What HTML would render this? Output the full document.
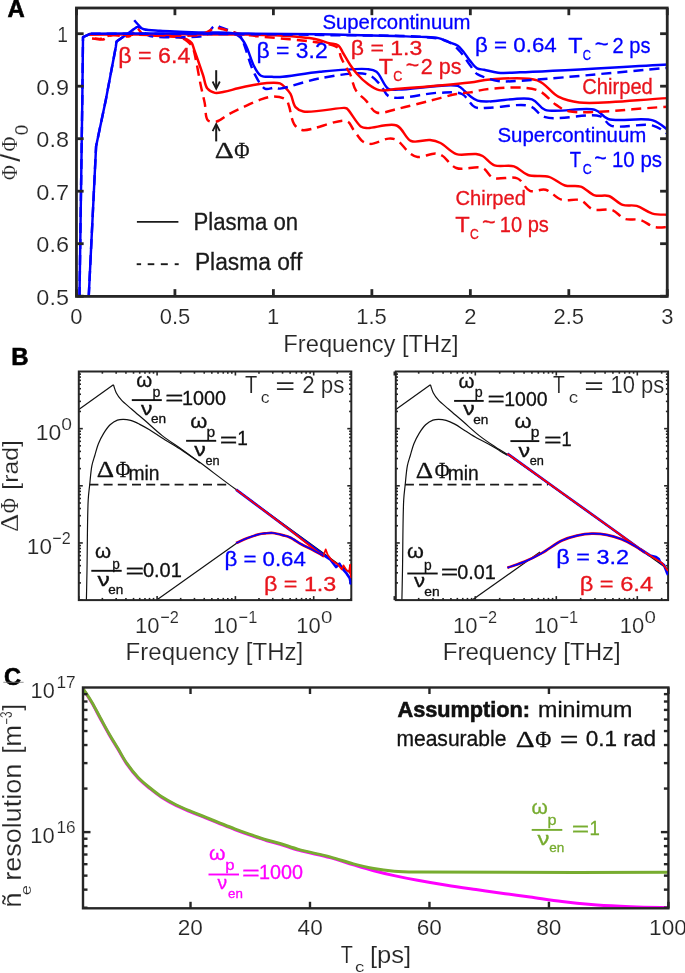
<!DOCTYPE html>
<html><head><meta charset="utf-8"><style>
html,body{margin:0;padding:0;background:#fff;width:685px;height:973px;overflow:hidden}
svg{display:block;will-change:transform}
text{white-space:pre;font-kerning:none}
text.t{stroke:#fff;stroke-width:0.15px}
</style></head><body>
<svg width="685" height="973" viewBox="0 0 685 973">
<rect width="685" height="973" fill="#fff"/>
<defs><clipPath id="clipA"><rect x="76.45" y="8.0" width="590.8499999999999" height="288.35"/></clipPath><clipPath id="clipBL"><rect x="78.8" y="371.5" width="272.5" height="228.6"/></clipPath><clipPath id="clipBR"><rect x="395.8" y="371.5" width="272.3" height="228.6"/></clipPath><clipPath id="clipC"><rect x="83" y="687.5" width="585.4" height="220.8"/></clipPath></defs>
<g clip-path="url(#clipA)">
<path d="M95.00,38.50 C97.67,38.83 100.41,39.98 103.00,39.50 C105.75,38.99 107.63,35.97 111.00,35.20 C115.87,34.08 125.54,37.92 130.00,36.00 C133.29,34.59 134.53,28.32 136.80,28.20 C138.83,28.10 139.64,32.43 142.90,33.90 C149.79,37.01 172.52,35.28 180.00,37.50 C183.51,38.54 185.19,39.64 187.30,41.30 C189.39,42.95 191.22,44.78 192.60,47.40 C194.38,50.79 194.88,55.49 196.00,60.50 C197.48,67.11 198.88,76.32 200.40,83.70 C201.79,90.47 203.42,96.81 204.70,103.10 C205.90,109.02 205.05,117.71 207.90,120.40 C209.91,122.30 213.65,122.12 216.60,121.50 C220.13,120.75 223.45,117.16 227.40,115.00 C231.97,112.50 237.27,109.95 242.50,107.50 C248.02,104.91 254.13,101.77 259.70,99.90 C264.66,98.24 269.61,96.41 274.20,96.50 C278.40,96.58 283.77,97.73 286.20,99.80 C287.99,101.33 288.03,103.34 289.00,106.00 C290.62,110.43 291.36,120.10 294.20,124.20 C296.23,127.14 298.05,129.11 302.00,130.00 C310.56,131.92 338.78,118.08 346.70,121.00 C350.53,122.41 350.92,126.36 353.30,129.40 C356.12,133.00 359.17,138.83 362.50,141.20 C364.99,142.97 367.21,143.82 370.40,143.90 C375.22,144.01 383.84,138.89 388.70,138.60 C391.85,138.41 393.87,138.50 396.60,139.90 C400.77,142.04 405.75,150.18 409.80,153.10 C412.57,155.09 414.37,156.56 417.60,157.00 C422.28,157.64 431.08,153.19 435.60,153.50 C438.41,153.69 439.82,154.37 442.30,155.80 C446.32,158.12 450.40,165.79 456.30,168.00 C463.32,170.63 476.15,165.46 482.60,168.00 C487.37,169.88 488.41,175.87 493.10,177.80 C499.23,180.32 511.22,175.75 517.60,178.50 C522.97,180.82 525.08,188.98 529.90,190.80 C534.48,192.53 540.55,188.53 545.60,189.80 C551.09,191.18 555.62,197.84 561.40,199.60 C567.30,201.40 575.25,198.38 580.70,200.30 C585.54,202.00 588.06,207.71 592.90,209.40 C598.35,211.30 606.72,208.15 612.20,210.00 C617.05,211.64 619.89,217.14 624.50,218.80 C629.20,220.49 635.24,218.55 640.20,219.90 C645.14,221.25 649.25,225.71 654.20,226.90 C659.18,228.09 664.73,226.97 670.00,227.00" fill="none" stroke="#ff0000" stroke-width="2.45" stroke-linejoin="round" stroke-dasharray="10 6"/>
<path d="M88.00,34.50 C105.33,34.43 124.39,33.75 140.00,34.30 C152.83,34.75 166.35,35.67 175.00,36.90 C180.18,37.64 184.34,38.11 187.30,39.50 C189.28,40.43 190.57,41.43 191.70,43.00 C193.01,44.80 193.20,46.94 194.30,50.00 C196.37,55.76 200.62,67.91 203.00,75.00 C204.75,80.21 204.94,85.58 207.40,88.60 C209.32,90.96 212.26,92.35 215.00,92.90 C217.81,93.46 220.76,92.42 224.10,91.80 C228.29,91.03 233.42,89.38 238.10,88.30 C242.78,87.22 247.60,86.17 252.20,85.30 C256.56,84.48 260.55,83.53 265.00,83.20 C269.79,82.84 276.32,82.07 280.00,83.40 C282.59,84.34 284.05,86.35 285.80,88.10 C287.55,89.85 289.08,91.43 290.50,93.90 C292.45,97.29 292.93,104.13 295.50,107.10 C297.56,109.48 299.57,110.68 303.40,111.50 C311.55,113.24 338.63,107.62 344.10,107.90 C345.49,107.97 345.64,107.76 346.70,108.40 C349.85,110.31 356.86,124.14 361.20,126.80 C363.51,128.22 364.75,127.94 367.70,128.10 C373.88,128.43 389.11,122.64 396.60,125.50 C403.00,127.94 405.32,138.67 411.10,141.00 C416.56,143.20 424.66,139.40 430.00,140.00 C434.05,140.46 436.79,141.23 440.50,143.00 C445.46,145.36 450.58,152.37 456.50,154.20 C462.41,156.03 471.26,153.32 476.00,154.00 C478.82,154.40 480.21,154.76 482.60,156.00 C486.14,157.84 489.71,163.51 494.50,165.30 C499.94,167.33 508.24,164.50 514.00,166.30 C519.29,167.96 522.62,173.21 528.00,175.00 C534.09,177.02 542.65,174.89 549.00,176.80 C554.90,178.57 559.51,183.90 565.00,185.50 C570.10,186.99 575.80,185.00 580.70,186.60 C585.72,188.24 589.82,193.88 594.70,195.40 C599.19,196.80 604.21,194.60 608.70,196.00 C613.58,197.52 617.83,203.19 622.70,204.80 C627.19,206.29 632.01,204.62 636.70,205.90 C641.94,207.33 646.95,212.12 652.50,213.60 C658.05,215.08 664.17,214.40 670.00,214.80" fill="none" stroke="#ff0000" stroke-width="2.45" stroke-linejoin="round"/>
<polyline points="88.7,297.0 96.1,146.2 105.8,100.0 115.8,47.0 116.5,41.5 127.0,34.2" fill="none" stroke="#0000ff" stroke-width="2.45" stroke-linejoin="round" stroke-dasharray="10 6"/>
<path d="M134.20,20.30 C135.93,22.20 137.59,23.91 139.40,26.00 C141.50,28.42 143.90,32.33 146.00,34.00 C147.38,35.10 147.83,35.48 150.00,36.00 C157.27,37.75 191.15,37.45 200.00,36.50 C203.26,36.15 204.61,36.25 206.60,35.00 C209.05,33.47 211.00,28.52 213.00,27.00 C214.22,26.07 215.26,25.49 216.50,25.50 C217.91,25.51 219.08,26.72 221.00,27.50 C224.29,28.84 231.14,30.92 234.60,32.50 C236.86,33.53 238.56,33.98 240.00,35.50 C241.64,37.25 242.12,39.48 243.50,42.80 C246.27,49.46 250.09,65.27 254.40,73.50 C257.68,79.76 261.40,87.06 265.40,88.80 C268.11,89.98 271.39,87.67 274.00,87.70 C276.18,87.72 277.14,88.75 280.00,88.60 C287.47,88.21 306.00,80.66 320.00,78.30 C335.00,75.77 356.82,71.19 367.30,74.40 C373.54,76.31 376.61,81.06 380.40,84.90 C383.98,88.53 384.43,94.43 389.60,96.70 C398.94,100.81 424.87,93.00 438.20,92.80 C447.50,92.66 455.57,91.18 461.90,94.00 C467.50,96.50 470.00,105.02 475.00,107.20 C479.49,109.16 483.82,107.74 490.00,107.70 C500.02,107.64 519.57,102.99 529.40,105.90 C536.30,107.94 537.83,114.90 545.20,117.20 C557.61,121.08 589.49,112.45 600.30,116.40 C605.76,118.39 605.70,123.66 610.90,125.60 C619.90,128.96 642.27,122.75 652.90,125.60 C660.19,127.56 664.30,132.20 670.00,135.50" fill="none" stroke="#0000ff" stroke-width="2.45" stroke-linejoin="round" stroke-dasharray="10 6"/>
<polyline points="88.7,297.0 96.1,146.2 105.8,100.0 115.8,47.0 116.5,41.5" fill="none" stroke="#0000ff" stroke-width="2.45" stroke-linejoin="round"/>
<path d="M116.50,41.50 C120.00,39.07 123.57,36.62 127.00,34.20 C130.33,31.85 134.97,28.16 136.80,27.20 C137.44,26.86 137.58,26.68 138.20,26.70 C139.45,26.75 141.38,28.56 143.80,29.20 C147.74,30.24 153.39,30.33 160.00,30.80 C170.36,31.53 187.36,32.08 200.00,32.50 C211.39,32.88 225.58,31.60 232.50,33.30 C236.01,34.16 237.86,35.18 240.00,37.00 C242.32,38.97 243.81,41.53 245.70,45.00 C248.63,50.37 251.31,61.39 254.40,66.90 C256.51,70.67 258.07,74.05 261.00,75.70 C263.94,77.36 268.62,76.59 272.00,76.80 C274.87,76.98 276.33,77.20 280.00,77.00 C288.25,76.56 306.08,73.00 320.00,71.70 C335.08,70.29 357.70,68.04 367.30,69.10 C371.61,69.58 373.59,69.62 376.50,71.70 C380.78,74.77 383.79,86.21 388.30,88.80 C391.51,90.64 393.88,89.57 398.80,89.60 C410.47,89.67 448.12,82.83 457.80,85.80 C461.47,86.93 462.41,89.24 464.50,91.00 C466.46,92.65 467.94,94.46 470.00,96.00 C472.26,97.68 474.63,99.67 477.60,100.60 C481.12,101.70 484.64,101.36 490.00,101.40 C499.86,101.47 522.32,96.19 532.00,99.30 C538.13,101.27 538.86,107.59 545.20,109.80 C556.10,113.61 584.16,106.34 595.10,109.80 C601.29,111.76 602.13,116.98 608.20,119.00 C618.34,122.38 641.85,116.94 652.90,120.40 C660.36,122.74 664.30,127.80 670.00,131.50" fill="none" stroke="#0000ff" stroke-width="2.45" stroke-linejoin="round"/>
<path d="M92.00,38.50 C94.67,38.67 97.23,39.38 100.00,39.00 C103.19,38.56 104.89,36.38 110.00,35.50 C124.90,32.93 187.03,37.70 200.00,35.00 C203.77,34.21 204.88,32.99 207.00,32.00 C208.82,31.16 210.30,30.16 212.00,29.50 C213.64,28.87 215.30,28.19 217.00,28.10 C218.73,28.01 220.33,28.54 222.30,29.00 C224.86,29.60 228.25,30.84 231.00,31.60 C233.45,32.28 235.34,32.84 238.00,33.40 C241.45,34.13 244.22,34.59 250.00,35.40 C264.87,37.48 317.08,40.87 330.00,44.50 C334.38,45.73 336.62,46.32 338.40,48.40 C340.10,50.39 339.57,53.61 340.70,56.50 C342.11,60.10 344.83,65.00 346.60,68.20 C347.87,70.50 348.92,71.50 350.10,74.00 C351.99,78.01 353.04,85.84 355.90,90.40 C358.50,94.55 362.65,97.02 366.00,100.60 C369.52,104.37 371.76,110.85 376.50,112.50 C382.16,114.47 390.75,110.23 398.80,108.50 C408.45,106.43 420.36,103.12 430.40,100.60 C439.54,98.31 449.26,95.35 456.60,94.00 C461.80,93.04 465.18,93.14 470.10,92.40 C476.10,91.50 481.91,89.41 490.00,88.80 C502.37,87.86 525.67,85.89 537.30,90.10 C545.48,93.06 549.91,100.91 555.70,104.60 C560.28,107.52 562.10,109.77 568.80,111.20 C586.41,114.97 636.27,108.13 670.00,106.60" fill="none" stroke="#ff0000" stroke-width="2.45" stroke-linejoin="round" stroke-dasharray="10 6"/>
<path d="M88.00,34.20 C142.00,34.33 217.51,34.07 250.00,34.60 C263.98,34.83 269.63,34.83 280.00,35.50 C291.23,36.23 306.02,37.25 315.00,39.00 C320.78,40.13 324.79,41.97 329.00,43.10 C332.43,44.02 336.03,43.68 338.40,45.40 C340.67,47.05 341.39,50.19 343.10,53.00 C345.21,56.47 347.67,61.08 350.10,64.70 C352.35,68.04 354.40,70.99 357.10,74.00 C360.06,77.30 363.59,80.90 367.30,83.60 C370.94,86.25 374.49,89.08 379.10,90.10 C384.68,91.34 390.20,89.46 398.80,88.80 C415.17,87.54 453.58,84.46 470.00,82.50 C478.74,81.46 481.89,80.03 490.00,79.50 C502.40,78.69 525.21,76.13 537.30,80.40 C546.36,83.60 550.92,93.00 558.30,96.70 C564.98,100.05 569.73,101.44 579.30,102.50 C598.83,104.66 639.77,99.50 670.00,98.00" fill="none" stroke="#ff0000" stroke-width="2.45" stroke-linejoin="round"/>
<polyline points="79.5,297.0 82.3,100.0 83.0,37.2 90.6,33.7" fill="none" stroke="#0000ff" stroke-width="2.45" stroke-linejoin="round" stroke-dasharray="10 6"/>
<path d="M90.60,33.70 C127.07,33.80 162.69,33.79 200.00,34.00 C239.08,34.22 279.98,34.17 320.00,35.00 C360.08,35.83 421.05,34.70 440.30,39.00 C446.72,40.44 449.05,41.89 452.60,44.30 C456.00,46.61 458.52,49.72 461.30,53.00 C464.38,56.63 467.29,61.57 470.10,65.30 C472.52,68.51 474.33,72.03 477.10,74.10 C479.63,75.99 482.62,76.51 485.80,77.60 C489.52,78.87 493.55,80.48 498.10,81.10 C503.53,81.84 507.29,81.42 516.30,81.00 C542.55,79.79 618.77,72.07 670.00,67.60" fill="none" stroke="#0000ff" stroke-width="2.45" stroke-linejoin="round" stroke-dasharray="10 6"/>
<polyline points="79.5,297.0 82.3,100.0 83.0,37.2 90.6,33.7" fill="none" stroke="#0000ff" stroke-width="2.45" stroke-linejoin="round"/>
<path d="M90.60,33.70 C127.07,33.60 162.69,33.33 200.00,33.40 C239.08,33.48 284.04,33.63 320.00,34.20 C349.36,34.66 381.93,35.67 400.00,36.20 C409.26,36.47 414.32,36.56 421.00,36.90 C427.10,37.21 433.73,37.02 438.50,38.10 C442.01,38.90 444.24,40.39 447.30,41.60 C450.64,42.92 455.05,43.85 457.80,45.70 C460.08,47.23 461.28,49.12 463.10,51.30 C465.36,54.01 467.67,57.96 470.10,60.90 C472.35,63.63 474.51,66.98 477.10,68.40 C479.26,69.58 481.37,69.15 484.10,69.70 C487.97,70.47 492.88,72.20 498.10,72.70 C504.56,73.32 509.44,72.67 520.00,72.30 C547.65,71.32 620.00,67.03 670.00,64.40" fill="none" stroke="#0000ff" stroke-width="2.45" stroke-linejoin="round"/>
</g>
<rect x="76.45" y="8.0" width="590.8" height="288.4" fill="none" stroke="#262626" stroke-width="2.8"/>
<line x1="76.45" y1="296.35" x2="76.45" y2="289.15" stroke="#262626" stroke-width="2.8"/>
<line x1="76.45" y1="8.00" x2="76.45" y2="15.20" stroke="#262626" stroke-width="2.8"/>
<line x1="174.92" y1="296.35" x2="174.92" y2="289.15" stroke="#262626" stroke-width="2.8"/>
<line x1="174.92" y1="8.00" x2="174.92" y2="15.20" stroke="#262626" stroke-width="2.8"/>
<line x1="273.40" y1="296.35" x2="273.40" y2="289.15" stroke="#262626" stroke-width="2.8"/>
<line x1="273.40" y1="8.00" x2="273.40" y2="15.20" stroke="#262626" stroke-width="2.8"/>
<line x1="371.87" y1="296.35" x2="371.87" y2="289.15" stroke="#262626" stroke-width="2.8"/>
<line x1="371.87" y1="8.00" x2="371.87" y2="15.20" stroke="#262626" stroke-width="2.8"/>
<line x1="470.35" y1="296.35" x2="470.35" y2="289.15" stroke="#262626" stroke-width="2.8"/>
<line x1="470.35" y1="8.00" x2="470.35" y2="15.20" stroke="#262626" stroke-width="2.8"/>
<line x1="568.82" y1="296.35" x2="568.82" y2="289.15" stroke="#262626" stroke-width="2.8"/>
<line x1="568.82" y1="8.00" x2="568.82" y2="15.20" stroke="#262626" stroke-width="2.8"/>
<line x1="667.30" y1="296.35" x2="667.30" y2="289.15" stroke="#262626" stroke-width="2.8"/>
<line x1="667.30" y1="8.00" x2="667.30" y2="15.20" stroke="#262626" stroke-width="2.8"/>
<line x1="76.45" y1="296.20" x2="83.65" y2="296.20" stroke="#262626" stroke-width="2.8"/>
<line x1="667.30" y1="296.20" x2="660.10" y2="296.20" stroke="#262626" stroke-width="2.8"/>
<line x1="76.45" y1="243.70" x2="83.65" y2="243.70" stroke="#262626" stroke-width="2.8"/>
<line x1="667.30" y1="243.70" x2="660.10" y2="243.70" stroke="#262626" stroke-width="2.8"/>
<line x1="76.45" y1="191.20" x2="83.65" y2="191.20" stroke="#262626" stroke-width="2.8"/>
<line x1="667.30" y1="191.20" x2="660.10" y2="191.20" stroke="#262626" stroke-width="2.8"/>
<line x1="76.45" y1="138.70" x2="83.65" y2="138.70" stroke="#262626" stroke-width="2.8"/>
<line x1="667.30" y1="138.70" x2="660.10" y2="138.70" stroke="#262626" stroke-width="2.8"/>
<line x1="76.45" y1="86.20" x2="83.65" y2="86.20" stroke="#262626" stroke-width="2.8"/>
<line x1="667.30" y1="86.20" x2="660.10" y2="86.20" stroke="#262626" stroke-width="2.8"/>
<line x1="76.45" y1="33.70" x2="83.65" y2="33.70" stroke="#262626" stroke-width="2.8"/>
<line x1="667.30" y1="33.70" x2="660.10" y2="33.70" stroke="#262626" stroke-width="2.8"/>
<text class="t" x="70.33" y="324.10" font-size="22" font-family="'Liberation Sans', sans-serif" fill="#262626" textLength="12.24" lengthAdjust="spacingAndGlyphs">0</text>
<text class="t" x="159.67" y="324.10" font-size="22" font-family="'Liberation Sans', sans-serif" fill="#262626" textLength="30.58" lengthAdjust="spacingAndGlyphs">0.5</text>
<text class="t" x="266.98" y="324.10" font-size="22" font-family="'Liberation Sans', sans-serif" fill="#262626" textLength="12.24" lengthAdjust="spacingAndGlyphs">1</text>
<text class="t" x="356.21" y="324.10" font-size="22" font-family="'Liberation Sans', sans-serif" fill="#262626" textLength="30.58" lengthAdjust="spacingAndGlyphs">1.5</text>
<text class="t" x="464.23" y="324.10" font-size="22" font-family="'Liberation Sans', sans-serif" fill="#262626" textLength="12.24" lengthAdjust="spacingAndGlyphs">2</text>
<text class="t" x="553.44" y="324.10" font-size="22" font-family="'Liberation Sans', sans-serif" fill="#262626" textLength="30.58" lengthAdjust="spacingAndGlyphs">2.5</text>
<text class="t" x="661.25" y="324.10" font-size="22" font-family="'Liberation Sans', sans-serif" fill="#262626" textLength="12.24" lengthAdjust="spacingAndGlyphs">3</text>
<text x="36.38" y="304.80" font-size="22" font-family="'Liberation Sans', sans-serif" fill="#262626" textLength="32.60" lengthAdjust="spacingAndGlyphs" class="t">0.5</text>
<text x="36.38" y="252.30" font-size="22" font-family="'Liberation Sans', sans-serif" fill="#262626" textLength="32.65" lengthAdjust="spacingAndGlyphs" class="t">0.6</text>
<text x="36.38" y="199.80" font-size="22" font-family="'Liberation Sans', sans-serif" fill="#262626" textLength="32.81" lengthAdjust="spacingAndGlyphs" class="t">0.7</text>
<text x="36.38" y="147.30" font-size="22" font-family="'Liberation Sans', sans-serif" fill="#262626" textLength="32.64" lengthAdjust="spacingAndGlyphs" class="t">0.8</text>
<text x="36.38" y="94.80" font-size="22" font-family="'Liberation Sans', sans-serif" fill="#262626" textLength="32.74" lengthAdjust="spacingAndGlyphs" class="t">0.9</text>
<text x="57.33" y="42.00" font-size="22" font-family="'Liberation Sans', sans-serif" fill="#262626" textLength="10.71" lengthAdjust="spacingAndGlyphs" class="t">1</text>
<text x="283.36" y="351.50" font-size="23.4" font-family="'Liberation Sans', sans-serif" fill="#262626" textLength="175.24" lengthAdjust="spacingAndGlyphs" class="t">Frequency [THz]</text>
<g transform="translate(16.9,179.4) rotate(-90)">
<text x="-0.61" y="0.00" font-size="24" font-family="'Liberation Serif', serif" fill="#262626" textLength="14.83" lengthAdjust="spacingAndGlyphs" class="t">Φ</text>
<text x="17.70" y="2.60" font-size="27" font-family="'Liberation Sans', sans-serif" fill="#262626" textLength="7.90" lengthAdjust="spacingAndGlyphs" class="t">/</text>
<text x="27.89" y="0.00" font-size="24" font-family="'Liberation Serif', serif" fill="#262626" textLength="14.83" lengthAdjust="spacingAndGlyphs" class="t">Φ</text>
<text x="44.26" y="10.80" font-size="18.8" font-family="'Liberation Sans', sans-serif" fill="#262626" textLength="10.47" lengthAdjust="spacingAndGlyphs" class="t">0</text>
</g>
<text x="7.51" y="16.50" font-size="24.3" font-family="'Liberation Sans', sans-serif" fill="#000" font-weight="bold" textLength="17.22" lengthAdjust="spacingAndGlyphs" style="stroke:#000;stroke-width:0.6px">A</text>
<text x="118.29" y="63.00" font-size="21.5" font-family="'Liberation Sans', sans-serif" fill="#e8141c" textLength="72.09" lengthAdjust="spacingAndGlyphs" style="stroke:#e8141c;stroke-width:0.3px">β = 6.4</text>
<text x="256.51" y="57.60" font-size="21.3" font-family="'Liberation Sans', sans-serif" fill="#0000ff" textLength="71.14" lengthAdjust="spacingAndGlyphs" style="stroke:#0000ff;stroke-width:0.3px">β = 3.2</text>
<text x="350.80" y="54.90" font-size="20.2" font-family="'Liberation Sans', sans-serif" fill="#e8141c" textLength="71.51" lengthAdjust="spacingAndGlyphs" style="stroke:#e8141c;stroke-width:0.3px">β = 1.3</text>
<text x="475.05" y="51.90" font-size="20.4" font-family="'Liberation Sans', sans-serif" fill="#0000ff" textLength="81.70" lengthAdjust="spacingAndGlyphs" style="stroke:#0000ff;stroke-width:0.3px">β = 0.64</text>
<text x="322.48" y="29.20" font-size="19.8" font-family="'Liberation Sans', sans-serif" fill="#0000ff" textLength="147.96" lengthAdjust="spacingAndGlyphs" style="stroke:#0000ff;stroke-width:0.3px">Supercontinuum</text>
<text x="497.47" y="142.30" font-size="19.8" font-family="'Liberation Sans', sans-serif" fill="#0000ff" textLength="148.88" lengthAdjust="spacingAndGlyphs" style="stroke:#0000ff;stroke-width:0.3px">Supercontinuum</text>
<text x="582.28" y="94.30" font-size="21.2" font-family="'Liberation Sans', sans-serif" fill="#e8141c" textLength="70.52" lengthAdjust="spacingAndGlyphs" style="stroke:#e8141c;stroke-width:0.3px">Chirped</text>
<text x="455.38" y="205.40" font-size="21.0" font-family="'Liberation Sans', sans-serif" fill="#e8141c" textLength="70.62" lengthAdjust="spacingAndGlyphs" style="stroke:#e8141c;stroke-width:0.3px">Chirped</text>
<text x="378.68" y="73.90" font-size="21.3" font-family="'Liberation Sans', sans-serif" fill="#e8141c" textLength="14.26" lengthAdjust="spacingAndGlyphs" style="stroke:#e8141c;stroke-width:0.3px">T</text>
<text x="393.36" y="80.80" font-size="13.8" font-family="'Liberation Sans', sans-serif" fill="#e8141c" textLength="9.12" lengthAdjust="spacingAndGlyphs" style="stroke:#e8141c;stroke-width:0.3px">C</text>
<text x="405.66" y="71.70" font-size="21.3" font-family="'Liberation Sans', sans-serif" fill="#e8141c" textLength="13.47" lengthAdjust="spacingAndGlyphs" style="stroke:#e8141c;stroke-width:0.3px">~</text>
<text x="420.82" y="73.90" font-size="21.3" font-family="'Liberation Sans', sans-serif" fill="#e8141c" textLength="40.76" lengthAdjust="spacingAndGlyphs" style="stroke:#e8141c;stroke-width:0.3px">2 ps</text>
<text x="568.38" y="53.20" font-size="21.3" font-family="'Liberation Sans', sans-serif" fill="#0000ff" textLength="14.26" lengthAdjust="spacingAndGlyphs" style="stroke:#0000ff;stroke-width:0.3px">T</text>
<text x="582.82" y="60.10" font-size="13.8" font-family="'Liberation Sans', sans-serif" fill="#0000ff" textLength="8.21" lengthAdjust="spacingAndGlyphs" style="stroke:#0000ff;stroke-width:0.3px">C</text>
<text x="594.83" y="51.00" font-size="21.3" font-family="'Liberation Sans', sans-serif" fill="#0000ff" textLength="13.95" lengthAdjust="spacingAndGlyphs" style="stroke:#0000ff;stroke-width:0.3px">~</text>
<text x="612.59" y="53.20" font-size="21.3" font-family="'Liberation Sans', sans-serif" fill="#0000ff" textLength="37.83" lengthAdjust="spacingAndGlyphs" style="stroke:#0000ff;stroke-width:0.3px">2 ps</text>
<text x="569.68" y="166.80" font-size="21.3" font-family="'Liberation Sans', sans-serif" fill="#0000ff" textLength="11.34" lengthAdjust="spacingAndGlyphs" style="stroke:#0000ff;stroke-width:0.3px">T</text>
<text x="582.67" y="173.70" font-size="13.8" font-family="'Liberation Sans', sans-serif" fill="#0000ff" textLength="9.01" lengthAdjust="spacingAndGlyphs" style="stroke:#0000ff;stroke-width:0.3px">C</text>
<text x="594.15" y="164.60" font-size="21.3" font-family="'Liberation Sans', sans-serif" fill="#0000ff" textLength="12.41" lengthAdjust="spacingAndGlyphs" style="stroke:#0000ff;stroke-width:0.3px">~</text>
<text x="611.94" y="166.80" font-size="21.3" font-family="'Liberation Sans', sans-serif" fill="#0000ff" textLength="50.10" lengthAdjust="spacingAndGlyphs" style="stroke:#0000ff;stroke-width:0.3px">10 ps</text>
<text x="455.27" y="231.60" font-size="21.3" font-family="'Liberation Sans', sans-serif" fill="#e8141c" textLength="14.48" lengthAdjust="spacingAndGlyphs" style="stroke:#e8141c;stroke-width:0.3px">T</text>
<text x="470.08" y="238.50" font-size="13.8" font-family="'Liberation Sans', sans-serif" fill="#e8141c" textLength="8.78" lengthAdjust="spacingAndGlyphs" style="stroke:#e8141c;stroke-width:0.3px">C</text>
<text x="481.95" y="229.40" font-size="21.3" font-family="'Liberation Sans', sans-serif" fill="#e8141c" textLength="13.59" lengthAdjust="spacingAndGlyphs" style="stroke:#e8141c;stroke-width:0.3px">~</text>
<text x="499.77" y="231.60" font-size="21.3" font-family="'Liberation Sans', sans-serif" fill="#e8141c" textLength="49.05" lengthAdjust="spacingAndGlyphs" style="stroke:#e8141c;stroke-width:0.3px">10 ps</text>
<line x1="216.20" y1="70.20" x2="216.20" y2="87.50" stroke="#1a1a1a" stroke-width="2"/>
<path d="M212.6,81.5 L216.2,88.8 L219.8,81.5" fill="none" stroke="#1a1a1a" stroke-width="1.8"/>
<line x1="216.20" y1="125.50" x2="216.20" y2="141.40" stroke="#1a1a1a" stroke-width="2"/>
<path d="M212.6,131.2 L216.2,124.0 L219.8,131.2" fill="none" stroke="#1a1a1a" stroke-width="1.8"/>
<text x="214.87" y="158.20" font-size="23.8" font-family="'Liberation Serif', serif" fill="#1a1a1a" textLength="19.04" lengthAdjust="spacingAndGlyphs" style="stroke:#1a1a1a;stroke-width:0.3px">Δ</text>
<text x="234.27" y="158.20" font-size="24.0" font-family="'Liberation Serif', serif" fill="#1a1a1a" textLength="15.26" lengthAdjust="spacingAndGlyphs" style="stroke:#1a1a1a;stroke-width:0.3px">Φ</text>
<line x1="136.90" y1="221.90" x2="178.40" y2="221.90" stroke="#1a1a1a" stroke-width="1.8"/>
<line x1="136.70" y1="264.20" x2="141.10" y2="264.20" stroke="#1a1a1a" stroke-width="1.9"/>
<line x1="147.70" y1="264.20" x2="154.30" y2="264.20" stroke="#1a1a1a" stroke-width="1.9"/>
<line x1="160.80" y1="264.20" x2="167.80" y2="264.20" stroke="#1a1a1a" stroke-width="1.9"/>
<line x1="174.70" y1="264.20" x2="178.70" y2="264.20" stroke="#1a1a1a" stroke-width="1.9"/>
<text x="193.48" y="230.00" font-size="23.3" font-family="'Liberation Sans', sans-serif" fill="#1a1a1a" textLength="104.55" lengthAdjust="spacingAndGlyphs" style="stroke:#1a1a1a;stroke-width:0.3px">Plasma on</text>
<text x="194.93" y="270.30" font-size="23.3" font-family="'Liberation Sans', sans-serif" fill="#1a1a1a" textLength="107.53" lengthAdjust="spacingAndGlyphs" style="stroke:#1a1a1a;stroke-width:0.3px">Plasma off</text>
<g clip-path="url(#clipBL)">
<polyline points="78.8,409.5 113.4,384.8" fill="none" stroke="#111111" stroke-width="1.2" stroke-linejoin="round"/>
<path d="M113.40,384.80 C114.33,387.43 114.91,390.21 116.20,392.70 C117.52,395.25 119.14,397.48 121.30,399.90 C123.99,402.91 127.80,405.76 131.50,409.00 C135.85,412.81 140.88,417.04 145.80,421.30 C151.09,425.88 156.30,430.98 162.20,435.60 C168.51,440.54 176.09,445.24 182.60,449.90 C188.65,454.23 193.17,457.55 200.00,462.60 C209.88,469.90 220.62,478.18 236.10,489.60 C263.62,509.91 312.90,545.53 351.30,573.50" fill="none" stroke="#111111" stroke-width="1.2" stroke-linejoin="round"/>
<path d="M86.40,600.00 C86.60,590.00 86.78,582.09 87.00,570.00 C87.34,551.54 87.35,514.86 88.20,500.00 C88.60,493.04 89.13,490.07 89.70,484.70 C90.34,478.71 90.84,471.02 91.90,465.70 C92.69,461.74 93.76,459.01 94.80,455.50 C95.92,451.73 96.91,447.51 98.40,443.80 C99.83,440.22 101.53,436.79 103.50,433.60 C105.44,430.47 107.61,427.11 110.10,424.80 C112.31,422.74 115.00,420.99 117.40,420.10 C119.39,419.37 121.23,419.28 123.30,419.30 C125.61,419.32 128.11,419.69 130.60,420.40 C133.42,421.20 136.33,422.64 139.30,424.10 C142.61,425.72 146.26,427.83 149.50,429.80 C152.58,431.67 155.49,433.79 158.30,435.60 C160.84,437.24 162.65,438.36 165.60,440.20 C170.08,443.00 176.95,446.98 182.60,450.70 C188.42,454.53 194.20,458.83 200.00,462.90" fill="none" stroke="#111111" stroke-width="1.2" stroke-linejoin="round"/>
<polyline points="156.7,600.0 238.0,542.2" fill="none" stroke="#111111" stroke-width="1.2" stroke-linejoin="round"/>
</g>
<line x1="89.40" y1="484.60" x2="226.50" y2="484.60" stroke="#1a1a1a" stroke-width="1.8" stroke-dasharray="9 5.2"/>
<rect x="78.8" y="371.5" width="272.5" height="228.6" fill="none" stroke="#262626" stroke-width="2"/>
<line x1="78.80" y1="600.10" x2="78.80" y2="596.10" stroke="#262626" stroke-width="1.6"/>
<line x1="78.80" y1="371.50" x2="78.80" y2="375.50" stroke="#262626" stroke-width="1.6"/>
<line x1="102.37" y1="600.10" x2="102.37" y2="597.90" stroke="#262626" stroke-width="1.6"/>
<line x1="102.37" y1="371.50" x2="102.37" y2="373.70" stroke="#262626" stroke-width="1.6"/>
<line x1="116.16" y1="600.10" x2="116.16" y2="597.90" stroke="#262626" stroke-width="1.6"/>
<line x1="116.16" y1="371.50" x2="116.16" y2="373.70" stroke="#262626" stroke-width="1.6"/>
<line x1="125.94" y1="600.10" x2="125.94" y2="597.90" stroke="#262626" stroke-width="1.6"/>
<line x1="125.94" y1="371.50" x2="125.94" y2="373.70" stroke="#262626" stroke-width="1.6"/>
<line x1="133.53" y1="600.10" x2="133.53" y2="597.90" stroke="#262626" stroke-width="1.6"/>
<line x1="133.53" y1="371.50" x2="133.53" y2="373.70" stroke="#262626" stroke-width="1.6"/>
<line x1="139.73" y1="600.10" x2="139.73" y2="597.90" stroke="#262626" stroke-width="1.6"/>
<line x1="139.73" y1="371.50" x2="139.73" y2="373.70" stroke="#262626" stroke-width="1.6"/>
<line x1="144.97" y1="600.10" x2="144.97" y2="597.90" stroke="#262626" stroke-width="1.6"/>
<line x1="144.97" y1="371.50" x2="144.97" y2="373.70" stroke="#262626" stroke-width="1.6"/>
<line x1="149.51" y1="600.10" x2="149.51" y2="597.90" stroke="#262626" stroke-width="1.6"/>
<line x1="149.51" y1="371.50" x2="149.51" y2="373.70" stroke="#262626" stroke-width="1.6"/>
<line x1="153.52" y1="600.10" x2="153.52" y2="597.90" stroke="#262626" stroke-width="1.6"/>
<line x1="153.52" y1="371.50" x2="153.52" y2="373.70" stroke="#262626" stroke-width="1.6"/>
<line x1="157.10" y1="600.10" x2="157.10" y2="596.10" stroke="#262626" stroke-width="1.6"/>
<line x1="157.10" y1="371.50" x2="157.10" y2="375.50" stroke="#262626" stroke-width="1.6"/>
<line x1="180.67" y1="600.10" x2="180.67" y2="597.90" stroke="#262626" stroke-width="1.6"/>
<line x1="180.67" y1="371.50" x2="180.67" y2="373.70" stroke="#262626" stroke-width="1.6"/>
<line x1="194.46" y1="600.10" x2="194.46" y2="597.90" stroke="#262626" stroke-width="1.6"/>
<line x1="194.46" y1="371.50" x2="194.46" y2="373.70" stroke="#262626" stroke-width="1.6"/>
<line x1="204.24" y1="600.10" x2="204.24" y2="597.90" stroke="#262626" stroke-width="1.6"/>
<line x1="204.24" y1="371.50" x2="204.24" y2="373.70" stroke="#262626" stroke-width="1.6"/>
<line x1="211.83" y1="600.10" x2="211.83" y2="597.90" stroke="#262626" stroke-width="1.6"/>
<line x1="211.83" y1="371.50" x2="211.83" y2="373.70" stroke="#262626" stroke-width="1.6"/>
<line x1="218.03" y1="600.10" x2="218.03" y2="597.90" stroke="#262626" stroke-width="1.6"/>
<line x1="218.03" y1="371.50" x2="218.03" y2="373.70" stroke="#262626" stroke-width="1.6"/>
<line x1="223.27" y1="600.10" x2="223.27" y2="597.90" stroke="#262626" stroke-width="1.6"/>
<line x1="223.27" y1="371.50" x2="223.27" y2="373.70" stroke="#262626" stroke-width="1.6"/>
<line x1="227.81" y1="600.10" x2="227.81" y2="597.90" stroke="#262626" stroke-width="1.6"/>
<line x1="227.81" y1="371.50" x2="227.81" y2="373.70" stroke="#262626" stroke-width="1.6"/>
<line x1="231.82" y1="600.10" x2="231.82" y2="597.90" stroke="#262626" stroke-width="1.6"/>
<line x1="231.82" y1="371.50" x2="231.82" y2="373.70" stroke="#262626" stroke-width="1.6"/>
<line x1="235.40" y1="600.10" x2="235.40" y2="596.10" stroke="#262626" stroke-width="1.6"/>
<line x1="235.40" y1="371.50" x2="235.40" y2="375.50" stroke="#262626" stroke-width="1.6"/>
<line x1="258.97" y1="600.10" x2="258.97" y2="597.90" stroke="#262626" stroke-width="1.6"/>
<line x1="258.97" y1="371.50" x2="258.97" y2="373.70" stroke="#262626" stroke-width="1.6"/>
<line x1="272.76" y1="600.10" x2="272.76" y2="597.90" stroke="#262626" stroke-width="1.6"/>
<line x1="272.76" y1="371.50" x2="272.76" y2="373.70" stroke="#262626" stroke-width="1.6"/>
<line x1="282.54" y1="600.10" x2="282.54" y2="597.90" stroke="#262626" stroke-width="1.6"/>
<line x1="282.54" y1="371.50" x2="282.54" y2="373.70" stroke="#262626" stroke-width="1.6"/>
<line x1="290.13" y1="600.10" x2="290.13" y2="597.90" stroke="#262626" stroke-width="1.6"/>
<line x1="290.13" y1="371.50" x2="290.13" y2="373.70" stroke="#262626" stroke-width="1.6"/>
<line x1="296.33" y1="600.10" x2="296.33" y2="597.90" stroke="#262626" stroke-width="1.6"/>
<line x1="296.33" y1="371.50" x2="296.33" y2="373.70" stroke="#262626" stroke-width="1.6"/>
<line x1="301.57" y1="600.10" x2="301.57" y2="597.90" stroke="#262626" stroke-width="1.6"/>
<line x1="301.57" y1="371.50" x2="301.57" y2="373.70" stroke="#262626" stroke-width="1.6"/>
<line x1="306.11" y1="600.10" x2="306.11" y2="597.90" stroke="#262626" stroke-width="1.6"/>
<line x1="306.11" y1="371.50" x2="306.11" y2="373.70" stroke="#262626" stroke-width="1.6"/>
<line x1="310.12" y1="600.10" x2="310.12" y2="597.90" stroke="#262626" stroke-width="1.6"/>
<line x1="310.12" y1="371.50" x2="310.12" y2="373.70" stroke="#262626" stroke-width="1.6"/>
<line x1="313.70" y1="600.10" x2="313.70" y2="596.10" stroke="#262626" stroke-width="1.6"/>
<line x1="313.70" y1="371.50" x2="313.70" y2="375.50" stroke="#262626" stroke-width="1.6"/>
<line x1="337.27" y1="600.10" x2="337.27" y2="597.90" stroke="#262626" stroke-width="1.6"/>
<line x1="337.27" y1="371.50" x2="337.27" y2="373.70" stroke="#262626" stroke-width="1.6"/>
<line x1="351.06" y1="600.10" x2="351.06" y2="597.90" stroke="#262626" stroke-width="1.6"/>
<line x1="351.06" y1="371.50" x2="351.06" y2="373.70" stroke="#262626" stroke-width="1.6"/>
<line x1="78.80" y1="600.10" x2="82.80" y2="600.10" stroke="#262626" stroke-width="1.6"/>
<line x1="351.30" y1="600.10" x2="347.30" y2="600.10" stroke="#262626" stroke-width="1.6"/>
<line x1="78.80" y1="582.90" x2="81.00" y2="582.90" stroke="#262626" stroke-width="1.6"/>
<line x1="351.30" y1="582.90" x2="349.10" y2="582.90" stroke="#262626" stroke-width="1.6"/>
<line x1="78.80" y1="572.83" x2="81.00" y2="572.83" stroke="#262626" stroke-width="1.6"/>
<line x1="351.30" y1="572.83" x2="349.10" y2="572.83" stroke="#262626" stroke-width="1.6"/>
<line x1="78.80" y1="565.69" x2="81.00" y2="565.69" stroke="#262626" stroke-width="1.6"/>
<line x1="351.30" y1="565.69" x2="349.10" y2="565.69" stroke="#262626" stroke-width="1.6"/>
<line x1="78.80" y1="560.15" x2="81.00" y2="560.15" stroke="#262626" stroke-width="1.6"/>
<line x1="351.30" y1="560.15" x2="349.10" y2="560.15" stroke="#262626" stroke-width="1.6"/>
<line x1="78.80" y1="555.63" x2="81.00" y2="555.63" stroke="#262626" stroke-width="1.6"/>
<line x1="351.30" y1="555.63" x2="349.10" y2="555.63" stroke="#262626" stroke-width="1.6"/>
<line x1="78.80" y1="551.80" x2="81.00" y2="551.80" stroke="#262626" stroke-width="1.6"/>
<line x1="351.30" y1="551.80" x2="349.10" y2="551.80" stroke="#262626" stroke-width="1.6"/>
<line x1="78.80" y1="548.49" x2="81.00" y2="548.49" stroke="#262626" stroke-width="1.6"/>
<line x1="351.30" y1="548.49" x2="349.10" y2="548.49" stroke="#262626" stroke-width="1.6"/>
<line x1="78.80" y1="545.57" x2="81.00" y2="545.57" stroke="#262626" stroke-width="1.6"/>
<line x1="351.30" y1="545.57" x2="349.10" y2="545.57" stroke="#262626" stroke-width="1.6"/>
<line x1="78.80" y1="542.95" x2="82.80" y2="542.95" stroke="#262626" stroke-width="1.6"/>
<line x1="351.30" y1="542.95" x2="347.30" y2="542.95" stroke="#262626" stroke-width="1.6"/>
<line x1="78.80" y1="525.75" x2="81.00" y2="525.75" stroke="#262626" stroke-width="1.6"/>
<line x1="351.30" y1="525.75" x2="349.10" y2="525.75" stroke="#262626" stroke-width="1.6"/>
<line x1="78.80" y1="515.68" x2="81.00" y2="515.68" stroke="#262626" stroke-width="1.6"/>
<line x1="351.30" y1="515.68" x2="349.10" y2="515.68" stroke="#262626" stroke-width="1.6"/>
<line x1="78.80" y1="508.54" x2="81.00" y2="508.54" stroke="#262626" stroke-width="1.6"/>
<line x1="351.30" y1="508.54" x2="349.10" y2="508.54" stroke="#262626" stroke-width="1.6"/>
<line x1="78.80" y1="503.00" x2="81.00" y2="503.00" stroke="#262626" stroke-width="1.6"/>
<line x1="351.30" y1="503.00" x2="349.10" y2="503.00" stroke="#262626" stroke-width="1.6"/>
<line x1="78.80" y1="498.48" x2="81.00" y2="498.48" stroke="#262626" stroke-width="1.6"/>
<line x1="351.30" y1="498.48" x2="349.10" y2="498.48" stroke="#262626" stroke-width="1.6"/>
<line x1="78.80" y1="494.65" x2="81.00" y2="494.65" stroke="#262626" stroke-width="1.6"/>
<line x1="351.30" y1="494.65" x2="349.10" y2="494.65" stroke="#262626" stroke-width="1.6"/>
<line x1="78.80" y1="491.34" x2="81.00" y2="491.34" stroke="#262626" stroke-width="1.6"/>
<line x1="351.30" y1="491.34" x2="349.10" y2="491.34" stroke="#262626" stroke-width="1.6"/>
<line x1="78.80" y1="488.42" x2="81.00" y2="488.42" stroke="#262626" stroke-width="1.6"/>
<line x1="351.30" y1="488.42" x2="349.10" y2="488.42" stroke="#262626" stroke-width="1.6"/>
<line x1="78.80" y1="485.80" x2="82.80" y2="485.80" stroke="#262626" stroke-width="1.6"/>
<line x1="351.30" y1="485.80" x2="347.30" y2="485.80" stroke="#262626" stroke-width="1.6"/>
<line x1="78.80" y1="468.60" x2="81.00" y2="468.60" stroke="#262626" stroke-width="1.6"/>
<line x1="351.30" y1="468.60" x2="349.10" y2="468.60" stroke="#262626" stroke-width="1.6"/>
<line x1="78.80" y1="458.53" x2="81.00" y2="458.53" stroke="#262626" stroke-width="1.6"/>
<line x1="351.30" y1="458.53" x2="349.10" y2="458.53" stroke="#262626" stroke-width="1.6"/>
<line x1="78.80" y1="451.39" x2="81.00" y2="451.39" stroke="#262626" stroke-width="1.6"/>
<line x1="351.30" y1="451.39" x2="349.10" y2="451.39" stroke="#262626" stroke-width="1.6"/>
<line x1="78.80" y1="445.85" x2="81.00" y2="445.85" stroke="#262626" stroke-width="1.6"/>
<line x1="351.30" y1="445.85" x2="349.10" y2="445.85" stroke="#262626" stroke-width="1.6"/>
<line x1="78.80" y1="441.33" x2="81.00" y2="441.33" stroke="#262626" stroke-width="1.6"/>
<line x1="351.30" y1="441.33" x2="349.10" y2="441.33" stroke="#262626" stroke-width="1.6"/>
<line x1="78.80" y1="437.50" x2="81.00" y2="437.50" stroke="#262626" stroke-width="1.6"/>
<line x1="351.30" y1="437.50" x2="349.10" y2="437.50" stroke="#262626" stroke-width="1.6"/>
<line x1="78.80" y1="434.19" x2="81.00" y2="434.19" stroke="#262626" stroke-width="1.6"/>
<line x1="351.30" y1="434.19" x2="349.10" y2="434.19" stroke="#262626" stroke-width="1.6"/>
<line x1="78.80" y1="431.27" x2="81.00" y2="431.27" stroke="#262626" stroke-width="1.6"/>
<line x1="351.30" y1="431.27" x2="349.10" y2="431.27" stroke="#262626" stroke-width="1.6"/>
<line x1="78.80" y1="428.65" x2="82.80" y2="428.65" stroke="#262626" stroke-width="1.6"/>
<line x1="351.30" y1="428.65" x2="347.30" y2="428.65" stroke="#262626" stroke-width="1.6"/>
<line x1="78.80" y1="411.45" x2="81.00" y2="411.45" stroke="#262626" stroke-width="1.6"/>
<line x1="351.30" y1="411.45" x2="349.10" y2="411.45" stroke="#262626" stroke-width="1.6"/>
<line x1="78.80" y1="401.38" x2="81.00" y2="401.38" stroke="#262626" stroke-width="1.6"/>
<line x1="351.30" y1="401.38" x2="349.10" y2="401.38" stroke="#262626" stroke-width="1.6"/>
<line x1="78.80" y1="394.24" x2="81.00" y2="394.24" stroke="#262626" stroke-width="1.6"/>
<line x1="351.30" y1="394.24" x2="349.10" y2="394.24" stroke="#262626" stroke-width="1.6"/>
<line x1="78.80" y1="388.70" x2="81.00" y2="388.70" stroke="#262626" stroke-width="1.6"/>
<line x1="351.30" y1="388.70" x2="349.10" y2="388.70" stroke="#262626" stroke-width="1.6"/>
<line x1="78.80" y1="384.18" x2="81.00" y2="384.18" stroke="#262626" stroke-width="1.6"/>
<line x1="351.30" y1="384.18" x2="349.10" y2="384.18" stroke="#262626" stroke-width="1.6"/>
<line x1="78.80" y1="380.35" x2="81.00" y2="380.35" stroke="#262626" stroke-width="1.6"/>
<line x1="351.30" y1="380.35" x2="349.10" y2="380.35" stroke="#262626" stroke-width="1.6"/>
<line x1="78.80" y1="377.04" x2="81.00" y2="377.04" stroke="#262626" stroke-width="1.6"/>
<line x1="351.30" y1="377.04" x2="349.10" y2="377.04" stroke="#262626" stroke-width="1.6"/>
<line x1="78.80" y1="374.12" x2="81.00" y2="374.12" stroke="#262626" stroke-width="1.6"/>
<line x1="351.30" y1="374.12" x2="349.10" y2="374.12" stroke="#262626" stroke-width="1.6"/>
<text x="134.92" y="632.90" font-size="22" font-family="'Liberation Sans', sans-serif" fill="#262626" textLength="24.54" lengthAdjust="spacingAndGlyphs" class="t">10</text>
<text x="160.29" y="623.00" font-size="17.4" font-family="'Liberation Sans', sans-serif" fill="#262626" textLength="18.63" lengthAdjust="spacingAndGlyphs" class="t">−2</text>
<text x="213.22" y="632.90" font-size="22" font-family="'Liberation Sans', sans-serif" fill="#262626" textLength="24.54" lengthAdjust="spacingAndGlyphs" class="t">10</text>
<text x="238.59" y="623.00" font-size="17.4" font-family="'Liberation Sans', sans-serif" fill="#262626" textLength="18.71" lengthAdjust="spacingAndGlyphs" class="t">−1</text>
<text x="296.22" y="632.90" font-size="22" font-family="'Liberation Sans', sans-serif" fill="#262626" textLength="24.54" lengthAdjust="spacingAndGlyphs" class="t">10</text>
<text x="320.90" y="623.00" font-size="17.4" font-family="'Liberation Sans', sans-serif" fill="#262626" textLength="11.40" lengthAdjust="spacingAndGlyphs" class="t">0</text>
<g clip-path="url(#clipBR)">
<polyline points="395.8,409.5 430.4,384.8" fill="none" stroke="#111111" stroke-width="1.2" stroke-linejoin="round"/>
<path d="M430.40,384.80 C431.33,387.43 431.91,390.21 433.20,392.70 C434.52,395.25 436.14,397.48 438.30,399.90 C440.99,402.91 444.80,405.76 448.50,409.00 C452.85,412.81 457.88,417.04 462.80,421.30 C468.09,425.88 473.67,431.27 479.20,435.60 C484.41,439.68 490.01,443.38 495.00,446.70 C499.34,449.59 501.03,450.22 507.40,454.50 C530.80,470.21 614.53,531.17 668.10,569.50" fill="none" stroke="#111111" stroke-width="1.2" stroke-linejoin="round"/>
<path d="M401.90,600.00 C402.10,590.00 402.28,582.09 402.50,570.00 C402.84,551.54 402.85,514.86 403.70,500.00 C404.10,493.04 404.63,490.07 405.20,484.70 C405.84,478.71 406.34,471.02 407.40,465.70 C408.19,461.74 409.26,459.01 410.30,455.50 C411.42,451.73 412.41,447.51 413.90,443.80 C415.33,440.22 417.03,436.79 419.00,433.60 C420.94,430.47 423.11,427.11 425.60,424.80 C427.81,422.74 430.50,420.99 432.90,420.10 C434.89,419.37 436.73,419.28 438.80,419.30 C441.11,419.32 443.61,419.69 446.10,420.40 C448.92,421.20 451.84,422.54 454.80,424.10 C458.16,425.88 461.55,428.46 465.10,430.70 C468.87,433.08 472.86,435.77 476.80,438.00 C480.63,440.16 484.57,441.77 488.40,443.90 C492.31,446.07 496.56,448.86 500.00,450.90 C502.74,452.52 504.93,453.77 507.40,455.20" fill="none" stroke="#111111" stroke-width="1.2" stroke-linejoin="round"/>
<polyline points="472.2,600.0 540.0,552.1" fill="none" stroke="#111111" stroke-width="1.2" stroke-linejoin="round"/>
</g>
<line x1="404.90" y1="484.60" x2="548.00" y2="484.60" stroke="#1a1a1a" stroke-width="1.8" stroke-dasharray="9 5.2"/>
<rect x="395.8" y="371.5" width="272.3" height="228.6" fill="none" stroke="#262626" stroke-width="2"/>
<line x1="394.30" y1="600.10" x2="394.30" y2="596.10" stroke="#262626" stroke-width="1.6"/>
<line x1="394.30" y1="371.50" x2="394.30" y2="375.50" stroke="#262626" stroke-width="1.6"/>
<line x1="418.68" y1="600.10" x2="418.68" y2="597.90" stroke="#262626" stroke-width="1.6"/>
<line x1="418.68" y1="371.50" x2="418.68" y2="373.70" stroke="#262626" stroke-width="1.6"/>
<line x1="432.95" y1="600.10" x2="432.95" y2="597.90" stroke="#262626" stroke-width="1.6"/>
<line x1="432.95" y1="371.50" x2="432.95" y2="373.70" stroke="#262626" stroke-width="1.6"/>
<line x1="443.07" y1="600.10" x2="443.07" y2="597.90" stroke="#262626" stroke-width="1.6"/>
<line x1="443.07" y1="371.50" x2="443.07" y2="373.70" stroke="#262626" stroke-width="1.6"/>
<line x1="450.92" y1="600.10" x2="450.92" y2="597.90" stroke="#262626" stroke-width="1.6"/>
<line x1="450.92" y1="371.50" x2="450.92" y2="373.70" stroke="#262626" stroke-width="1.6"/>
<line x1="457.33" y1="600.10" x2="457.33" y2="597.90" stroke="#262626" stroke-width="1.6"/>
<line x1="457.33" y1="371.50" x2="457.33" y2="373.70" stroke="#262626" stroke-width="1.6"/>
<line x1="462.75" y1="600.10" x2="462.75" y2="597.90" stroke="#262626" stroke-width="1.6"/>
<line x1="462.75" y1="371.50" x2="462.75" y2="373.70" stroke="#262626" stroke-width="1.6"/>
<line x1="467.45" y1="600.10" x2="467.45" y2="597.90" stroke="#262626" stroke-width="1.6"/>
<line x1="467.45" y1="371.50" x2="467.45" y2="373.70" stroke="#262626" stroke-width="1.6"/>
<line x1="471.59" y1="600.10" x2="471.59" y2="597.90" stroke="#262626" stroke-width="1.6"/>
<line x1="471.59" y1="371.50" x2="471.59" y2="373.70" stroke="#262626" stroke-width="1.6"/>
<line x1="475.30" y1="600.10" x2="475.30" y2="596.10" stroke="#262626" stroke-width="1.6"/>
<line x1="475.30" y1="371.50" x2="475.30" y2="375.50" stroke="#262626" stroke-width="1.6"/>
<line x1="499.68" y1="600.10" x2="499.68" y2="597.90" stroke="#262626" stroke-width="1.6"/>
<line x1="499.68" y1="371.50" x2="499.68" y2="373.70" stroke="#262626" stroke-width="1.6"/>
<line x1="513.95" y1="600.10" x2="513.95" y2="597.90" stroke="#262626" stroke-width="1.6"/>
<line x1="513.95" y1="371.50" x2="513.95" y2="373.70" stroke="#262626" stroke-width="1.6"/>
<line x1="524.07" y1="600.10" x2="524.07" y2="597.90" stroke="#262626" stroke-width="1.6"/>
<line x1="524.07" y1="371.50" x2="524.07" y2="373.70" stroke="#262626" stroke-width="1.6"/>
<line x1="531.92" y1="600.10" x2="531.92" y2="597.90" stroke="#262626" stroke-width="1.6"/>
<line x1="531.92" y1="371.50" x2="531.92" y2="373.70" stroke="#262626" stroke-width="1.6"/>
<line x1="538.33" y1="600.10" x2="538.33" y2="597.90" stroke="#262626" stroke-width="1.6"/>
<line x1="538.33" y1="371.50" x2="538.33" y2="373.70" stroke="#262626" stroke-width="1.6"/>
<line x1="543.75" y1="600.10" x2="543.75" y2="597.90" stroke="#262626" stroke-width="1.6"/>
<line x1="543.75" y1="371.50" x2="543.75" y2="373.70" stroke="#262626" stroke-width="1.6"/>
<line x1="548.45" y1="600.10" x2="548.45" y2="597.90" stroke="#262626" stroke-width="1.6"/>
<line x1="548.45" y1="371.50" x2="548.45" y2="373.70" stroke="#262626" stroke-width="1.6"/>
<line x1="552.59" y1="600.10" x2="552.59" y2="597.90" stroke="#262626" stroke-width="1.6"/>
<line x1="552.59" y1="371.50" x2="552.59" y2="373.70" stroke="#262626" stroke-width="1.6"/>
<line x1="556.30" y1="600.10" x2="556.30" y2="596.10" stroke="#262626" stroke-width="1.6"/>
<line x1="556.30" y1="371.50" x2="556.30" y2="375.50" stroke="#262626" stroke-width="1.6"/>
<line x1="580.68" y1="600.10" x2="580.68" y2="597.90" stroke="#262626" stroke-width="1.6"/>
<line x1="580.68" y1="371.50" x2="580.68" y2="373.70" stroke="#262626" stroke-width="1.6"/>
<line x1="594.95" y1="600.10" x2="594.95" y2="597.90" stroke="#262626" stroke-width="1.6"/>
<line x1="594.95" y1="371.50" x2="594.95" y2="373.70" stroke="#262626" stroke-width="1.6"/>
<line x1="605.07" y1="600.10" x2="605.07" y2="597.90" stroke="#262626" stroke-width="1.6"/>
<line x1="605.07" y1="371.50" x2="605.07" y2="373.70" stroke="#262626" stroke-width="1.6"/>
<line x1="612.92" y1="600.10" x2="612.92" y2="597.90" stroke="#262626" stroke-width="1.6"/>
<line x1="612.92" y1="371.50" x2="612.92" y2="373.70" stroke="#262626" stroke-width="1.6"/>
<line x1="619.33" y1="600.10" x2="619.33" y2="597.90" stroke="#262626" stroke-width="1.6"/>
<line x1="619.33" y1="371.50" x2="619.33" y2="373.70" stroke="#262626" stroke-width="1.6"/>
<line x1="624.75" y1="600.10" x2="624.75" y2="597.90" stroke="#262626" stroke-width="1.6"/>
<line x1="624.75" y1="371.50" x2="624.75" y2="373.70" stroke="#262626" stroke-width="1.6"/>
<line x1="629.45" y1="600.10" x2="629.45" y2="597.90" stroke="#262626" stroke-width="1.6"/>
<line x1="629.45" y1="371.50" x2="629.45" y2="373.70" stroke="#262626" stroke-width="1.6"/>
<line x1="633.59" y1="600.10" x2="633.59" y2="597.90" stroke="#262626" stroke-width="1.6"/>
<line x1="633.59" y1="371.50" x2="633.59" y2="373.70" stroke="#262626" stroke-width="1.6"/>
<line x1="637.30" y1="600.10" x2="637.30" y2="596.10" stroke="#262626" stroke-width="1.6"/>
<line x1="637.30" y1="371.50" x2="637.30" y2="375.50" stroke="#262626" stroke-width="1.6"/>
<line x1="661.68" y1="600.10" x2="661.68" y2="597.90" stroke="#262626" stroke-width="1.6"/>
<line x1="661.68" y1="371.50" x2="661.68" y2="373.70" stroke="#262626" stroke-width="1.6"/>
<line x1="395.80" y1="600.10" x2="399.80" y2="600.10" stroke="#262626" stroke-width="1.6"/>
<line x1="668.10" y1="600.10" x2="664.10" y2="600.10" stroke="#262626" stroke-width="1.6"/>
<line x1="395.80" y1="582.90" x2="398.00" y2="582.90" stroke="#262626" stroke-width="1.6"/>
<line x1="668.10" y1="582.90" x2="665.90" y2="582.90" stroke="#262626" stroke-width="1.6"/>
<line x1="395.80" y1="572.83" x2="398.00" y2="572.83" stroke="#262626" stroke-width="1.6"/>
<line x1="668.10" y1="572.83" x2="665.90" y2="572.83" stroke="#262626" stroke-width="1.6"/>
<line x1="395.80" y1="565.69" x2="398.00" y2="565.69" stroke="#262626" stroke-width="1.6"/>
<line x1="668.10" y1="565.69" x2="665.90" y2="565.69" stroke="#262626" stroke-width="1.6"/>
<line x1="395.80" y1="560.15" x2="398.00" y2="560.15" stroke="#262626" stroke-width="1.6"/>
<line x1="668.10" y1="560.15" x2="665.90" y2="560.15" stroke="#262626" stroke-width="1.6"/>
<line x1="395.80" y1="555.63" x2="398.00" y2="555.63" stroke="#262626" stroke-width="1.6"/>
<line x1="668.10" y1="555.63" x2="665.90" y2="555.63" stroke="#262626" stroke-width="1.6"/>
<line x1="395.80" y1="551.80" x2="398.00" y2="551.80" stroke="#262626" stroke-width="1.6"/>
<line x1="668.10" y1="551.80" x2="665.90" y2="551.80" stroke="#262626" stroke-width="1.6"/>
<line x1="395.80" y1="548.49" x2="398.00" y2="548.49" stroke="#262626" stroke-width="1.6"/>
<line x1="668.10" y1="548.49" x2="665.90" y2="548.49" stroke="#262626" stroke-width="1.6"/>
<line x1="395.80" y1="545.57" x2="398.00" y2="545.57" stroke="#262626" stroke-width="1.6"/>
<line x1="668.10" y1="545.57" x2="665.90" y2="545.57" stroke="#262626" stroke-width="1.6"/>
<line x1="395.80" y1="542.95" x2="399.80" y2="542.95" stroke="#262626" stroke-width="1.6"/>
<line x1="668.10" y1="542.95" x2="664.10" y2="542.95" stroke="#262626" stroke-width="1.6"/>
<line x1="395.80" y1="525.75" x2="398.00" y2="525.75" stroke="#262626" stroke-width="1.6"/>
<line x1="668.10" y1="525.75" x2="665.90" y2="525.75" stroke="#262626" stroke-width="1.6"/>
<line x1="395.80" y1="515.68" x2="398.00" y2="515.68" stroke="#262626" stroke-width="1.6"/>
<line x1="668.10" y1="515.68" x2="665.90" y2="515.68" stroke="#262626" stroke-width="1.6"/>
<line x1="395.80" y1="508.54" x2="398.00" y2="508.54" stroke="#262626" stroke-width="1.6"/>
<line x1="668.10" y1="508.54" x2="665.90" y2="508.54" stroke="#262626" stroke-width="1.6"/>
<line x1="395.80" y1="503.00" x2="398.00" y2="503.00" stroke="#262626" stroke-width="1.6"/>
<line x1="668.10" y1="503.00" x2="665.90" y2="503.00" stroke="#262626" stroke-width="1.6"/>
<line x1="395.80" y1="498.48" x2="398.00" y2="498.48" stroke="#262626" stroke-width="1.6"/>
<line x1="668.10" y1="498.48" x2="665.90" y2="498.48" stroke="#262626" stroke-width="1.6"/>
<line x1="395.80" y1="494.65" x2="398.00" y2="494.65" stroke="#262626" stroke-width="1.6"/>
<line x1="668.10" y1="494.65" x2="665.90" y2="494.65" stroke="#262626" stroke-width="1.6"/>
<line x1="395.80" y1="491.34" x2="398.00" y2="491.34" stroke="#262626" stroke-width="1.6"/>
<line x1="668.10" y1="491.34" x2="665.90" y2="491.34" stroke="#262626" stroke-width="1.6"/>
<line x1="395.80" y1="488.42" x2="398.00" y2="488.42" stroke="#262626" stroke-width="1.6"/>
<line x1="668.10" y1="488.42" x2="665.90" y2="488.42" stroke="#262626" stroke-width="1.6"/>
<line x1="395.80" y1="485.80" x2="399.80" y2="485.80" stroke="#262626" stroke-width="1.6"/>
<line x1="668.10" y1="485.80" x2="664.10" y2="485.80" stroke="#262626" stroke-width="1.6"/>
<line x1="395.80" y1="468.60" x2="398.00" y2="468.60" stroke="#262626" stroke-width="1.6"/>
<line x1="668.10" y1="468.60" x2="665.90" y2="468.60" stroke="#262626" stroke-width="1.6"/>
<line x1="395.80" y1="458.53" x2="398.00" y2="458.53" stroke="#262626" stroke-width="1.6"/>
<line x1="668.10" y1="458.53" x2="665.90" y2="458.53" stroke="#262626" stroke-width="1.6"/>
<line x1="395.80" y1="451.39" x2="398.00" y2="451.39" stroke="#262626" stroke-width="1.6"/>
<line x1="668.10" y1="451.39" x2="665.90" y2="451.39" stroke="#262626" stroke-width="1.6"/>
<line x1="395.80" y1="445.85" x2="398.00" y2="445.85" stroke="#262626" stroke-width="1.6"/>
<line x1="668.10" y1="445.85" x2="665.90" y2="445.85" stroke="#262626" stroke-width="1.6"/>
<line x1="395.80" y1="441.33" x2="398.00" y2="441.33" stroke="#262626" stroke-width="1.6"/>
<line x1="668.10" y1="441.33" x2="665.90" y2="441.33" stroke="#262626" stroke-width="1.6"/>
<line x1="395.80" y1="437.50" x2="398.00" y2="437.50" stroke="#262626" stroke-width="1.6"/>
<line x1="668.10" y1="437.50" x2="665.90" y2="437.50" stroke="#262626" stroke-width="1.6"/>
<line x1="395.80" y1="434.19" x2="398.00" y2="434.19" stroke="#262626" stroke-width="1.6"/>
<line x1="668.10" y1="434.19" x2="665.90" y2="434.19" stroke="#262626" stroke-width="1.6"/>
<line x1="395.80" y1="431.27" x2="398.00" y2="431.27" stroke="#262626" stroke-width="1.6"/>
<line x1="668.10" y1="431.27" x2="665.90" y2="431.27" stroke="#262626" stroke-width="1.6"/>
<line x1="395.80" y1="428.65" x2="399.80" y2="428.65" stroke="#262626" stroke-width="1.6"/>
<line x1="668.10" y1="428.65" x2="664.10" y2="428.65" stroke="#262626" stroke-width="1.6"/>
<line x1="395.80" y1="411.45" x2="398.00" y2="411.45" stroke="#262626" stroke-width="1.6"/>
<line x1="668.10" y1="411.45" x2="665.90" y2="411.45" stroke="#262626" stroke-width="1.6"/>
<line x1="395.80" y1="401.38" x2="398.00" y2="401.38" stroke="#262626" stroke-width="1.6"/>
<line x1="668.10" y1="401.38" x2="665.90" y2="401.38" stroke="#262626" stroke-width="1.6"/>
<line x1="395.80" y1="394.24" x2="398.00" y2="394.24" stroke="#262626" stroke-width="1.6"/>
<line x1="668.10" y1="394.24" x2="665.90" y2="394.24" stroke="#262626" stroke-width="1.6"/>
<line x1="395.80" y1="388.70" x2="398.00" y2="388.70" stroke="#262626" stroke-width="1.6"/>
<line x1="668.10" y1="388.70" x2="665.90" y2="388.70" stroke="#262626" stroke-width="1.6"/>
<line x1="395.80" y1="384.18" x2="398.00" y2="384.18" stroke="#262626" stroke-width="1.6"/>
<line x1="668.10" y1="384.18" x2="665.90" y2="384.18" stroke="#262626" stroke-width="1.6"/>
<line x1="395.80" y1="380.35" x2="398.00" y2="380.35" stroke="#262626" stroke-width="1.6"/>
<line x1="668.10" y1="380.35" x2="665.90" y2="380.35" stroke="#262626" stroke-width="1.6"/>
<line x1="395.80" y1="377.04" x2="398.00" y2="377.04" stroke="#262626" stroke-width="1.6"/>
<line x1="668.10" y1="377.04" x2="665.90" y2="377.04" stroke="#262626" stroke-width="1.6"/>
<line x1="395.80" y1="374.12" x2="398.00" y2="374.12" stroke="#262626" stroke-width="1.6"/>
<line x1="668.10" y1="374.12" x2="665.90" y2="374.12" stroke="#262626" stroke-width="1.6"/>
<text x="453.12" y="632.90" font-size="22" font-family="'Liberation Sans', sans-serif" fill="#262626" textLength="24.54" lengthAdjust="spacingAndGlyphs" class="t">10</text>
<text x="478.49" y="623.00" font-size="17.4" font-family="'Liberation Sans', sans-serif" fill="#262626" textLength="18.63" lengthAdjust="spacingAndGlyphs" class="t">−2</text>
<text x="534.12" y="632.90" font-size="22" font-family="'Liberation Sans', sans-serif" fill="#262626" textLength="24.54" lengthAdjust="spacingAndGlyphs" class="t">10</text>
<text x="559.49" y="623.00" font-size="17.4" font-family="'Liberation Sans', sans-serif" fill="#262626" textLength="18.71" lengthAdjust="spacingAndGlyphs" class="t">−1</text>
<text x="619.82" y="632.90" font-size="22" font-family="'Liberation Sans', sans-serif" fill="#262626" textLength="24.54" lengthAdjust="spacingAndGlyphs" class="t">10</text>
<text x="644.50" y="623.00" font-size="17.4" font-family="'Liberation Sans', sans-serif" fill="#262626" textLength="11.40" lengthAdjust="spacingAndGlyphs" class="t">0</text>
<text x="125.63" y="659.80" font-size="23.3" font-family="'Liberation Sans', sans-serif" fill="#262626" textLength="177.58" lengthAdjust="spacingAndGlyphs" class="t">Frequency [THz]</text>
<text x="442.72" y="659.90" font-size="23.3" font-family="'Liberation Sans', sans-serif" fill="#262626" textLength="178.09" lengthAdjust="spacingAndGlyphs" class="t">Frequency [THz]</text>
<text x="35.65" y="439.90" font-size="22" font-family="'Liberation Sans', sans-serif" fill="#262626" textLength="25.55" lengthAdjust="spacingAndGlyphs" class="t">10</text>
<text x="61.25" y="429.70" font-size="17.2" font-family="'Liberation Sans', sans-serif" fill="#262626" textLength="10.70" lengthAdjust="spacingAndGlyphs" class="t">0</text>
<text x="26.88" y="553.90" font-size="22" font-family="'Liberation Sans', sans-serif" fill="#262626" textLength="25.10" lengthAdjust="spacingAndGlyphs" class="t">10</text>
<text x="52.30" y="544.10" font-size="17.2" font-family="'Liberation Sans', sans-serif" fill="#262626" textLength="18.52" lengthAdjust="spacingAndGlyphs" class="t">−2</text>
<g transform="translate(17.8,531.0) rotate(-90)">
<text x="-1.08" y="0.00" font-size="24.5" font-family="'Liberation Serif', serif" fill="#262626" textLength="18.25" lengthAdjust="spacingAndGlyphs" class="t">Δ</text>
<text x="17.67" y="0.00" font-size="24.5" font-family="'Liberation Serif', serif" fill="#262626" textLength="15.26" lengthAdjust="spacingAndGlyphs" class="t">Φ</text>
<text x="41.34" y="0.00" font-size="22.5" font-family="'Liberation Sans', sans-serif" fill="#262626" textLength="49.42" lengthAdjust="spacingAndGlyphs" class="t">[rad]</text>
</g>
<text x="11.20" y="365.10" font-size="24.3" font-family="'Liberation Sans', sans-serif" fill="#000" font-weight="bold" textLength="17.29" lengthAdjust="spacingAndGlyphs" style="stroke:#000;stroke-width:0.6px">B</text>
<g clip-path="url(#clipBL)">
<polyline points="236.1,489.6 290.0,530.0 323.3,554.9 330.5,559.7 336.1,567.0 339.4,563.7 341.8,567.8 346.6,573.4 349.8,578.2 351.0,584.6" fill="none" stroke="#0000ff" stroke-width="2.7" stroke-linejoin="round"/>
<polyline points="236.1,489.6 290.0,530.0 323.3,556.5 325.7,549.3 327.7,554.9 332.1,560.5 337.8,564.5 341.8,569.4 343.4,565.3 346.6,570.2 349.0,571.8 350.2,564.5 350.6,575.0 351.3,578.0" fill="none" stroke="#ff0000" stroke-width="1.7" stroke-linejoin="round"/>
<path d="M236.10,543.00 C239.73,541.43 243.26,539.73 247.00,538.30 C250.85,536.83 255.56,535.10 258.90,534.30 C261.24,533.74 262.83,533.61 265.00,533.40 C267.46,533.16 270.08,532.76 272.90,533.00 C276.24,533.28 280.60,534.56 283.70,535.40 C286.10,536.05 287.64,536.34 290.00,537.40 C293.40,538.94 297.97,542.41 301.80,544.50 C305.28,546.40 308.54,547.69 312.00,549.50 C315.70,551.43 319.53,553.70 323.30,555.80" fill="none" stroke="#ff0000" stroke-width="2.7" stroke-linejoin="round"/>
<path d="M236.10,543.00 C239.73,541.43 243.26,539.73 247.00,538.30 C250.85,536.83 255.56,535.10 258.90,534.30 C261.24,533.74 262.83,533.61 265.00,533.40 C267.46,533.16 270.08,532.76 272.90,533.00 C276.24,533.28 280.60,534.56 283.70,535.40 C286.10,536.05 287.64,536.34 290.00,537.40 C293.40,538.94 297.97,542.41 301.80,544.50 C305.28,546.40 308.54,547.69 312.00,549.50 C315.70,551.43 319.53,553.70 323.30,555.80" fill="none" stroke="#0000ff" stroke-width="1.7" stroke-linejoin="round"/>
</g>
<g clip-path="url(#clipBR)">
<polyline points="507.4,453.7 560.0,491.5 620.0,534.5 640.0,549.0 650.0,555.5 656.0,557.0 658.8,559.1 660.0,562.0 664.0,565.0 668.0,575.0" fill="none" stroke="#0000ff" stroke-width="2.7" stroke-linejoin="round"/>
<polyline points="507.4,453.7 560.0,491.5 620.0,534.5 640.0,549.0 650.0,555.5 658.8,561.0 662.0,563.0 668.0,571.0" fill="none" stroke="#ff0000" stroke-width="1.7" stroke-linejoin="round"/>
<path d="M507.40,567.80 C513.20,565.73 519.07,564.04 524.80,561.60 C530.68,559.09 536.29,556.22 542.20,552.90 C548.67,549.27 555.68,543.46 562.00,540.50 C567.19,538.07 571.96,536.75 577.00,535.60 C581.90,534.48 586.85,533.73 591.80,533.60 C596.75,533.47 601.78,533.87 606.70,534.80 C611.72,535.75 616.94,537.45 621.60,539.30 C626.00,541.05 630.05,543.26 634.00,545.50 C637.83,547.67 641.33,550.17 645.00,552.50" fill="none" stroke="#ff0000" stroke-width="2.7" stroke-linejoin="round"/>
<path d="M507.40,567.80 C513.20,565.73 519.07,564.04 524.80,561.60 C530.68,559.09 536.29,556.22 542.20,552.90 C548.67,549.27 555.68,543.46 562.00,540.50 C567.19,538.07 571.96,536.75 577.00,535.60 C581.90,534.48 586.85,533.73 591.80,533.60 C596.75,533.47 601.78,533.87 606.70,534.80 C611.72,535.75 616.94,537.45 621.60,539.30 C626.00,541.05 630.05,543.26 634.00,545.50 C637.83,547.67 641.33,550.17 645.00,552.50" fill="none" stroke="#0000ff" stroke-width="1.7" stroke-linejoin="round"/>
</g>
<line x1="131.80" y1="400.10" x2="161.80" y2="400.10" stroke="#111111" stroke-width="1.9"/>
<text x="136.17" y="387.40" font-size="19.3" font-family="'Liberation Sans', sans-serif" fill="#111111" textLength="15.97" lengthAdjust="spacingAndGlyphs" style="stroke:#111111;stroke-width:0.3px">ω</text>
<text x="152.48" y="396.60" font-size="14.4" font-family="'Liberation Sans', sans-serif" fill="#111111" textLength="7.91" lengthAdjust="spacingAndGlyphs" style="stroke:#111111;stroke-width:0.3px">p</text>
<text x="140.90" y="414.50" font-size="18.8" font-family="'Liberation Sans', sans-serif" fill="#111111" textLength="11.47" lengthAdjust="spacingAndGlyphs" style="stroke:#111111;stroke-width:0.3px">ν</text>
<text x="150.92" y="423.40" font-size="12.6" font-family="'Liberation Sans', sans-serif" fill="#111111" textLength="15.16" lengthAdjust="spacingAndGlyphs" style="stroke:#111111;stroke-width:0.3px">en</text>
<text x="165.17" y="405.20" font-size="20.3" font-family="'Liberation Sans', sans-serif" fill="#111111" textLength="18.27" lengthAdjust="spacingAndGlyphs" style="stroke:#111111;stroke-width:0.3px">=</text>
<text x="181.89" y="404.60" font-size="20.3" font-family="'Liberation Sans', sans-serif" fill="#111111" textLength="44.08" lengthAdjust="spacingAndGlyphs" style="stroke:#111111;stroke-width:0.3px">1000</text>
<line x1="186.10" y1="440.80" x2="216.20" y2="440.80" stroke="#111111" stroke-width="1.9"/>
<text x="190.31" y="427.60" font-size="19.3" font-family="'Liberation Sans', sans-serif" fill="#111111" textLength="17.08" lengthAdjust="spacingAndGlyphs" style="stroke:#111111;stroke-width:0.3px">ω</text>
<text x="206.50" y="437.00" font-size="14.4" font-family="'Liberation Sans', sans-serif" fill="#111111" textLength="8.66" lengthAdjust="spacingAndGlyphs" style="stroke:#111111;stroke-width:0.3px">p</text>
<text x="194.30" y="456.40" font-size="18.8" font-family="'Liberation Sans', sans-serif" fill="#111111" textLength="11.58" lengthAdjust="spacingAndGlyphs" style="stroke:#111111;stroke-width:0.3px">ν</text>
<text x="205.46" y="464.90" font-size="12.6" font-family="'Liberation Sans', sans-serif" fill="#111111" textLength="14.17" lengthAdjust="spacingAndGlyphs" style="stroke:#111111;stroke-width:0.3px">en</text>
<text x="219.82" y="446.80" font-size="20.3" font-family="'Liberation Sans', sans-serif" fill="#111111" textLength="17.67" lengthAdjust="spacingAndGlyphs" style="stroke:#111111;stroke-width:0.3px">=</text>
<text x="237.25" y="445.20" font-size="20.3" font-family="'Liberation Sans', sans-serif" fill="#111111" textLength="10.58" lengthAdjust="spacingAndGlyphs" style="stroke:#111111;stroke-width:0.3px">1</text>
<line x1="91.30" y1="570.80" x2="121.70" y2="570.80" stroke="#111111" stroke-width="1.9"/>
<text x="95.07" y="558.00" font-size="19.3" font-family="'Liberation Sans', sans-serif" fill="#111111" textLength="16.08" lengthAdjust="spacingAndGlyphs" style="stroke:#111111;stroke-width:0.3px">ω</text>
<text x="112.13" y="568.80" font-size="14.4" font-family="'Liberation Sans', sans-serif" fill="#111111" textLength="7.54" lengthAdjust="spacingAndGlyphs" style="stroke:#111111;stroke-width:0.3px">p</text>
<text x="97.40" y="585.50" font-size="18.8" font-family="'Liberation Sans', sans-serif" fill="#111111" textLength="12.34" lengthAdjust="spacingAndGlyphs" style="stroke:#111111;stroke-width:0.3px">ν</text>
<text x="108.23" y="594.40" font-size="12.6" font-family="'Liberation Sans', sans-serif" fill="#111111" textLength="15.05" lengthAdjust="spacingAndGlyphs" style="stroke:#111111;stroke-width:0.3px">en</text>
<text x="125.44" y="578.20" font-size="20.3" font-family="'Liberation Sans', sans-serif" fill="#111111" textLength="18.63" lengthAdjust="spacingAndGlyphs" style="stroke:#111111;stroke-width:0.3px">=</text>
<text x="142.92" y="577.20" font-size="20.3" font-family="'Liberation Sans', sans-serif" fill="#111111" textLength="38.96" lengthAdjust="spacingAndGlyphs" style="stroke:#111111;stroke-width:0.3px">0.01</text>
<line x1="454.10" y1="400.90" x2="483.70" y2="400.90" stroke="#111111" stroke-width="1.9"/>
<text x="458.47" y="388.20" font-size="19.3" font-family="'Liberation Sans', sans-serif" fill="#111111" textLength="15.97" lengthAdjust="spacingAndGlyphs" style="stroke:#111111;stroke-width:0.3px">ω</text>
<text x="474.78" y="397.40" font-size="14.4" font-family="'Liberation Sans', sans-serif" fill="#111111" textLength="7.91" lengthAdjust="spacingAndGlyphs" style="stroke:#111111;stroke-width:0.3px">p</text>
<text x="463.20" y="415.30" font-size="18.8" font-family="'Liberation Sans', sans-serif" fill="#111111" textLength="11.47" lengthAdjust="spacingAndGlyphs" style="stroke:#111111;stroke-width:0.3px">ν</text>
<text x="473.22" y="424.20" font-size="12.6" font-family="'Liberation Sans', sans-serif" fill="#111111" textLength="15.16" lengthAdjust="spacingAndGlyphs" style="stroke:#111111;stroke-width:0.3px">en</text>
<text x="487.55" y="406.00" font-size="20.3" font-family="'Liberation Sans', sans-serif" fill="#111111" textLength="17.31" lengthAdjust="spacingAndGlyphs" style="stroke:#111111;stroke-width:0.3px">=</text>
<text x="504.32" y="405.70" font-size="20.3" font-family="'Liberation Sans', sans-serif" fill="#111111" textLength="43.24" lengthAdjust="spacingAndGlyphs" style="stroke:#111111;stroke-width:0.3px">1000</text>
<line x1="510.40" y1="441.10" x2="539.30" y2="441.10" stroke="#111111" stroke-width="1.9"/>
<text x="514.61" y="427.90" font-size="19.3" font-family="'Liberation Sans', sans-serif" fill="#111111" textLength="17.08" lengthAdjust="spacingAndGlyphs" style="stroke:#111111;stroke-width:0.3px">ω</text>
<text x="530.80" y="437.30" font-size="14.4" font-family="'Liberation Sans', sans-serif" fill="#111111" textLength="8.66" lengthAdjust="spacingAndGlyphs" style="stroke:#111111;stroke-width:0.3px">p</text>
<text x="518.60" y="456.70" font-size="18.8" font-family="'Liberation Sans', sans-serif" fill="#111111" textLength="11.58" lengthAdjust="spacingAndGlyphs" style="stroke:#111111;stroke-width:0.3px">ν</text>
<text x="529.76" y="465.20" font-size="12.6" font-family="'Liberation Sans', sans-serif" fill="#111111" textLength="14.17" lengthAdjust="spacingAndGlyphs" style="stroke:#111111;stroke-width:0.3px">en</text>
<text x="544.12" y="447.10" font-size="20.3" font-family="'Liberation Sans', sans-serif" fill="#111111" textLength="17.67" lengthAdjust="spacingAndGlyphs" style="stroke:#111111;stroke-width:0.3px">=</text>
<text x="561.62" y="445.50" font-size="20.3" font-family="'Liberation Sans', sans-serif" fill="#111111" textLength="10.06" lengthAdjust="spacingAndGlyphs" style="stroke:#111111;stroke-width:0.3px">1</text>
<line x1="407.30" y1="573.50" x2="437.70" y2="573.50" stroke="#111111" stroke-width="1.9"/>
<text x="407.12" y="557.90" font-size="19.3" font-family="'Liberation Sans', sans-serif" fill="#111111" textLength="16.86" lengthAdjust="spacingAndGlyphs" style="stroke:#111111;stroke-width:0.3px">ω</text>
<text x="423.91" y="569.80" font-size="14.4" font-family="'Liberation Sans', sans-serif" fill="#111111" textLength="7.67" lengthAdjust="spacingAndGlyphs" style="stroke:#111111;stroke-width:0.3px">p</text>
<text x="413.90" y="586.60" font-size="18.8" font-family="'Liberation Sans', sans-serif" fill="#111111" textLength="11.04" lengthAdjust="spacingAndGlyphs" style="stroke:#111111;stroke-width:0.3px">ν</text>
<text x="424.21" y="595.90" font-size="12.6" font-family="'Liberation Sans', sans-serif" fill="#111111" textLength="15.39" lengthAdjust="spacingAndGlyphs" style="stroke:#111111;stroke-width:0.3px">en</text>
<text x="440.83" y="579.00" font-size="20.3" font-family="'Liberation Sans', sans-serif" fill="#111111" textLength="17.55" lengthAdjust="spacingAndGlyphs" style="stroke:#111111;stroke-width:0.3px">=</text>
<text x="457.33" y="579.30" font-size="20.3" font-family="'Liberation Sans', sans-serif" fill="#111111" textLength="38.54" lengthAdjust="spacingAndGlyphs" style="stroke:#111111;stroke-width:0.3px">0.01</text>
<text x="96.67" y="476.60" font-size="22.2" font-family="'Liberation Serif', serif" fill="#111111" textLength="17.34" lengthAdjust="spacingAndGlyphs" style="stroke:#111111;stroke-width:0.3px">Δ</text>
<text x="115.59" y="476.60" font-size="22.5" font-family="'Liberation Serif', serif" fill="#111111" textLength="14.83" lengthAdjust="spacingAndGlyphs" style="stroke:#111111;stroke-width:0.3px">Φ</text>
<text x="128.52" y="480.30" font-size="20.5" font-family="'Liberation Sans', sans-serif" fill="#111111" textLength="31.03" lengthAdjust="spacingAndGlyphs" style="stroke:#111111;stroke-width:0.3px">min</text>
<text x="415.87" y="477.60" font-size="22.2" font-family="'Liberation Serif', serif" fill="#111111" textLength="17.34" lengthAdjust="spacingAndGlyphs" style="stroke:#111111;stroke-width:0.3px">Δ</text>
<text x="434.79" y="477.60" font-size="22.5" font-family="'Liberation Serif', serif" fill="#111111" textLength="14.83" lengthAdjust="spacingAndGlyphs" style="stroke:#111111;stroke-width:0.3px">Φ</text>
<text x="447.72" y="479.90" font-size="20.5" font-family="'Liberation Sans', sans-serif" fill="#111111" textLength="31.03" lengthAdjust="spacingAndGlyphs" style="stroke:#111111;stroke-width:0.3px">min</text>
<text x="245.05" y="392.80" font-size="23.4" font-family="'Liberation Sans', sans-serif" fill="#262626" textLength="12.32" lengthAdjust="spacingAndGlyphs" class="t">T</text>
<text x="260.85" y="403.10" font-size="16.0" font-family="'Liberation Sans', sans-serif" fill="#262626" textLength="8.81" lengthAdjust="spacingAndGlyphs" class="t">c</text>
<text x="275.32" y="393.60" font-size="23.4" font-family="'Liberation Sans', sans-serif" fill="#262626" textLength="20.07" lengthAdjust="spacingAndGlyphs" class="t">=</text>
<text x="302.18" y="392.80" font-size="23.4" font-family="'Liberation Sans', sans-serif" fill="#262626" textLength="42.23" lengthAdjust="spacingAndGlyphs" class="t">2 ps</text>
<text x="553.07" y="392.80" font-size="23.4" font-family="'Liberation Sans', sans-serif" fill="#262626" textLength="11.78" lengthAdjust="spacingAndGlyphs" class="t">T</text>
<text x="568.80" y="403.10" font-size="16.0" font-family="'Liberation Sans', sans-serif" fill="#262626" textLength="9.39" lengthAdjust="spacingAndGlyphs" class="t">c</text>
<text x="584.26" y="393.60" font-size="23.4" font-family="'Liberation Sans', sans-serif" fill="#262626" textLength="19.59" lengthAdjust="spacingAndGlyphs" class="t">=</text>
<text x="610.53" y="392.80" font-size="23.4" font-family="'Liberation Sans', sans-serif" fill="#262626" textLength="53.77" lengthAdjust="spacingAndGlyphs" class="t">10 ps</text>
<text x="224.46" y="566.40" font-size="19.5" font-family="'Liberation Sans', sans-serif" fill="#0000ff" textLength="81.39" lengthAdjust="spacingAndGlyphs" style="stroke:#0000ff;stroke-width:0.3px">β = 0.64</text>
<text x="263.98" y="590.90" font-size="20.5" font-family="'Liberation Sans', sans-serif" fill="#e8141c" textLength="72.34" lengthAdjust="spacingAndGlyphs" style="stroke:#e8141c;stroke-width:0.3px">β = 1.3</text>
<text x="556.38" y="563.50" font-size="20.5" font-family="'Liberation Sans', sans-serif" fill="#0000ff" textLength="72.70" lengthAdjust="spacingAndGlyphs" style="stroke:#0000ff;stroke-width:0.3px">β = 3.2</text>
<text x="579.66" y="591.00" font-size="20.5" font-family="'Liberation Sans', sans-serif" fill="#e8141c" textLength="73.43" lengthAdjust="spacingAndGlyphs" style="stroke:#e8141c;stroke-width:0.3px">β = 6.4</text>
<g clip-path="url(#clipC)">
<path d="M82.90,688.90 C85.83,693.47 88.86,697.79 91.70,702.60 C94.71,707.70 97.48,713.35 100.40,718.70 C103.32,724.05 106.21,729.52 109.20,734.70 C112.08,739.71 115.08,744.43 118.00,749.30 C120.91,754.16 123.40,759.14 126.70,763.90 C130.16,768.89 134.30,774.23 138.40,778.50 C142.13,782.39 146.14,785.49 150.10,788.70 C153.94,791.81 157.59,794.75 161.80,797.50 C166.31,800.44 171.47,803.24 176.40,805.70 C181.21,808.10 186.13,810.06 191.00,812.10 C195.83,814.12 200.66,815.95 205.50,817.90 C210.36,819.85 215.23,821.85 220.10,823.80 C224.96,825.75 229.82,827.75 234.70,829.60 C239.55,831.44 244.19,833.13 249.30,834.90 C254.88,836.83 261.44,839.07 266.90,840.70 C271.57,842.09 275.23,842.81 280.00,844.20 C285.81,845.90 292.01,848.31 299.20,850.30 C308.22,852.80 320.48,855.01 330.00,857.60 C338.38,859.88 345.86,862.55 353.40,864.80 C360.42,866.90 366.98,868.90 373.80,870.70 C380.58,872.49 387.15,874.05 394.20,875.60 C401.72,877.26 409.36,878.77 417.60,880.30 C426.78,882.01 437.06,883.75 446.80,885.30 C456.52,886.85 466.26,888.20 476.00,889.60 C485.73,891.00 495.86,892.42 505.20,893.70 C513.80,894.88 521.21,895.80 530.00,897.00 C539.99,898.37 551.57,900.23 562.00,901.50 C571.94,902.71 581.46,903.70 591.20,904.50 C600.93,905.30 611.21,905.84 620.40,906.30 C628.60,906.71 635.70,906.95 643.70,907.20 C652.20,907.46 661.23,907.60 670.00,907.80" fill="none" stroke="#ff00ff" stroke-width="3.0" stroke-linejoin="round"/>
<path d="M82.90,688.20 C85.83,692.77 88.86,697.09 91.70,701.90 C94.71,707.00 97.48,712.65 100.40,718.00 C103.32,723.35 106.21,728.82 109.20,734.00 C112.08,739.01 115.08,743.73 118.00,748.60 C120.91,753.46 123.40,758.44 126.70,763.20 C130.16,768.19 134.30,773.53 138.40,777.80 C142.13,781.69 146.14,784.79 150.10,788.00 C153.94,791.11 157.59,794.05 161.80,796.80 C166.31,799.74 171.47,802.54 176.40,805.00 C181.21,807.40 186.13,809.36 191.00,811.40 C195.83,813.42 200.66,815.25 205.50,817.20 C210.36,819.15 215.23,821.15 220.10,823.10 C224.96,825.05 229.82,827.05 234.70,828.90 C239.55,830.74 244.19,832.43 249.30,834.20 C254.88,836.13 261.44,838.37 266.90,840.00 C271.57,841.39 275.23,842.11 280.00,843.50 C285.81,845.20 292.01,847.61 299.20,849.60 C308.22,852.10 320.47,854.35 330.00,856.90 C338.37,859.14 345.84,861.90 353.40,863.90 C360.40,865.75 366.97,867.38 373.80,868.60 C380.57,869.81 387.15,870.62 394.20,871.20 C401.72,871.82 405.64,871.87 417.60,872.10 C456.87,872.87 585.87,872.23 670.00,872.30" fill="none" stroke="#77ac30" stroke-width="3.0" stroke-linejoin="round"/>
</g>
<rect x="83.0" y="687.5" width="585.4" height="220.8" fill="none" stroke="#262626" stroke-width="2.4"/>
<line x1="190.52" y1="908.30" x2="190.52" y2="901.80" stroke="#262626" stroke-width="2.4"/>
<line x1="190.52" y1="687.50" x2="190.52" y2="694.00" stroke="#262626" stroke-width="2.4"/>
<line x1="309.99" y1="908.30" x2="309.99" y2="901.80" stroke="#262626" stroke-width="2.4"/>
<line x1="309.99" y1="687.50" x2="309.99" y2="694.00" stroke="#262626" stroke-width="2.4"/>
<line x1="429.46" y1="908.30" x2="429.46" y2="901.80" stroke="#262626" stroke-width="2.4"/>
<line x1="429.46" y1="687.50" x2="429.46" y2="694.00" stroke="#262626" stroke-width="2.4"/>
<line x1="548.93" y1="908.30" x2="548.93" y2="901.80" stroke="#262626" stroke-width="2.4"/>
<line x1="548.93" y1="687.50" x2="548.93" y2="694.00" stroke="#262626" stroke-width="2.4"/>
<line x1="668.40" y1="908.30" x2="668.40" y2="901.80" stroke="#262626" stroke-width="2.4"/>
<line x1="668.40" y1="687.50" x2="668.40" y2="694.00" stroke="#262626" stroke-width="2.4"/>
<line x1="83.00" y1="907.71" x2="87.50" y2="907.71" stroke="#262626" stroke-width="2.4"/>
<line x1="668.40" y1="907.71" x2="663.90" y2="907.71" stroke="#262626" stroke-width="2.4"/>
<line x1="83.00" y1="889.64" x2="87.50" y2="889.64" stroke="#262626" stroke-width="2.4"/>
<line x1="668.40" y1="889.64" x2="663.90" y2="889.64" stroke="#262626" stroke-width="2.4"/>
<line x1="83.00" y1="875.63" x2="87.50" y2="875.63" stroke="#262626" stroke-width="2.4"/>
<line x1="668.40" y1="875.63" x2="663.90" y2="875.63" stroke="#262626" stroke-width="2.4"/>
<line x1="83.00" y1="864.18" x2="87.50" y2="864.18" stroke="#262626" stroke-width="2.4"/>
<line x1="668.40" y1="864.18" x2="663.90" y2="864.18" stroke="#262626" stroke-width="2.4"/>
<line x1="83.00" y1="854.50" x2="87.50" y2="854.50" stroke="#262626" stroke-width="2.4"/>
<line x1="668.40" y1="854.50" x2="663.90" y2="854.50" stroke="#262626" stroke-width="2.4"/>
<line x1="83.00" y1="846.11" x2="87.50" y2="846.11" stroke="#262626" stroke-width="2.4"/>
<line x1="668.40" y1="846.11" x2="663.90" y2="846.11" stroke="#262626" stroke-width="2.4"/>
<line x1="83.00" y1="838.72" x2="87.50" y2="838.72" stroke="#262626" stroke-width="2.4"/>
<line x1="668.40" y1="838.72" x2="663.90" y2="838.72" stroke="#262626" stroke-width="2.4"/>
<line x1="83.00" y1="832.10" x2="90.50" y2="832.10" stroke="#262626" stroke-width="2.4"/>
<line x1="668.40" y1="832.10" x2="660.90" y2="832.10" stroke="#262626" stroke-width="2.4"/>
<line x1="83.00" y1="788.57" x2="87.50" y2="788.57" stroke="#262626" stroke-width="2.4"/>
<line x1="668.40" y1="788.57" x2="663.90" y2="788.57" stroke="#262626" stroke-width="2.4"/>
<line x1="83.00" y1="763.11" x2="87.50" y2="763.11" stroke="#262626" stroke-width="2.4"/>
<line x1="668.40" y1="763.11" x2="663.90" y2="763.11" stroke="#262626" stroke-width="2.4"/>
<line x1="83.00" y1="745.04" x2="87.50" y2="745.04" stroke="#262626" stroke-width="2.4"/>
<line x1="668.40" y1="745.04" x2="663.90" y2="745.04" stroke="#262626" stroke-width="2.4"/>
<line x1="83.00" y1="731.03" x2="87.50" y2="731.03" stroke="#262626" stroke-width="2.4"/>
<line x1="668.40" y1="731.03" x2="663.90" y2="731.03" stroke="#262626" stroke-width="2.4"/>
<line x1="83.00" y1="719.58" x2="87.50" y2="719.58" stroke="#262626" stroke-width="2.4"/>
<line x1="668.40" y1="719.58" x2="663.90" y2="719.58" stroke="#262626" stroke-width="2.4"/>
<line x1="83.00" y1="709.90" x2="87.50" y2="709.90" stroke="#262626" stroke-width="2.4"/>
<line x1="668.40" y1="709.90" x2="663.90" y2="709.90" stroke="#262626" stroke-width="2.4"/>
<line x1="83.00" y1="701.51" x2="87.50" y2="701.51" stroke="#262626" stroke-width="2.4"/>
<line x1="668.40" y1="701.51" x2="663.90" y2="701.51" stroke="#262626" stroke-width="2.4"/>
<line x1="83.00" y1="694.12" x2="87.50" y2="694.12" stroke="#262626" stroke-width="2.4"/>
<line x1="668.40" y1="694.12" x2="663.90" y2="694.12" stroke="#262626" stroke-width="2.4"/>
<text class="t" x="177.79" y="935.00" font-size="22" font-family="'Liberation Sans', sans-serif" fill="#262626" textLength="25.20" lengthAdjust="spacingAndGlyphs">20</text>
<text class="t" x="297.57" y="935.00" font-size="22" font-family="'Liberation Sans', sans-serif" fill="#262626" textLength="25.20" lengthAdjust="spacingAndGlyphs">40</text>
<text class="t" x="416.73" y="935.00" font-size="22" font-family="'Liberation Sans', sans-serif" fill="#262626" textLength="25.20" lengthAdjust="spacingAndGlyphs">60</text>
<text class="t" x="536.28" y="935.00" font-size="22" font-family="'Liberation Sans', sans-serif" fill="#262626" textLength="25.20" lengthAdjust="spacingAndGlyphs">80</text>
<text class="t" x="649.08" y="935.00" font-size="22" font-family="'Liberation Sans', sans-serif" fill="#262626" textLength="37.81" lengthAdjust="spacingAndGlyphs">100</text>
<text x="30.54" y="698.10" font-size="22" font-family="'Liberation Sans', sans-serif" fill="#262626" textLength="24.21" lengthAdjust="spacingAndGlyphs" class="t">10</text>
<text x="56.48" y="687.90" font-size="17.2" font-family="'Liberation Sans', sans-serif" fill="#262626" textLength="19.29" lengthAdjust="spacingAndGlyphs" class="t">17</text>
<text x="30.33" y="842.90" font-size="22" font-family="'Liberation Sans', sans-serif" fill="#262626" textLength="24.43" lengthAdjust="spacingAndGlyphs" class="t">10</text>
<text x="56.49" y="832.50" font-size="17.2" font-family="'Liberation Sans', sans-serif" fill="#262626" textLength="19.17" lengthAdjust="spacingAndGlyphs" class="t">16</text>
<text x="340.86" y="963.00" font-size="24.7" font-family="'Liberation Sans', sans-serif" fill="#262626" textLength="12.10" lengthAdjust="spacingAndGlyphs" class="t">T</text>
<text x="354.90" y="971.50" font-size="15.5" font-family="'Liberation Sans', sans-serif" fill="#262626" textLength="9.39" lengthAdjust="spacingAndGlyphs" class="t">c</text>
<text x="369.98" y="963.00" font-size="24.0" font-family="'Liberation Sans', sans-serif" fill="#262626" textLength="41.25" lengthAdjust="spacingAndGlyphs" class="t">[ps]</text>
<text x="4.03" y="685.20" font-size="24.5" font-family="'Liberation Sans', sans-serif" fill="#000" font-weight="bold" textLength="17.01" lengthAdjust="spacingAndGlyphs" style="stroke:#000;stroke-width:0.6px">C</text>
<line x1="3.30" y1="682.30" x2="23.60" y2="682.30" stroke="#777" stroke-width="0.8"/>
<g transform="translate(21.3,905.8) rotate(-90)">
<text x="-1.87" y="0.00" font-size="25.5" font-family="'Liberation Sans', sans-serif" fill="#262626" textLength="15.19" lengthAdjust="spacingAndGlyphs" class="t">ñ</text>
<text x="10.63" y="9.60" font-size="14.6" font-family="'Liberation Sans', sans-serif" fill="#262626" textLength="10.07" lengthAdjust="spacingAndGlyphs" class="t">e</text>
<text x="25.01" y="0.00" font-size="25.5" font-family="'Liberation Sans', sans-serif" fill="#262626" textLength="116.94" lengthAdjust="spacingAndGlyphs" class="t">resolution</text>
<text x="152.16" y="0.00" font-size="25.5" font-family="'Liberation Sans', sans-serif" fill="#262626" textLength="28.64" lengthAdjust="spacingAndGlyphs" class="t">[m</text>
<text x="181.02" y="-9.00" font-size="16.2" font-family="'Liberation Sans', sans-serif" fill="#262626" textLength="13.40" lengthAdjust="spacingAndGlyphs" class="t">−3</text>
<text x="195.01" y="0.00" font-size="25.5" font-family="'Liberation Sans', sans-serif" fill="#262626" textLength="6.85" lengthAdjust="spacingAndGlyphs" class="t">]</text>
</g>
<text x="397.46" y="716.90" font-size="22.2" font-family="'Liberation Sans', sans-serif" fill="#111111" font-weight="bold" textLength="132.63" lengthAdjust="spacingAndGlyphs" style="stroke:#111111;stroke-width:0.6px">Assumption:</text>
<text x="538.05" y="716.90" font-size="22.2" font-family="'Liberation Sans', sans-serif" fill="#111111" textLength="94.38" lengthAdjust="spacingAndGlyphs" style="stroke:#111111;stroke-width:0.3px">minimum</text>
<text x="396.40" y="745.50" font-size="22.2" font-family="'Liberation Sans', sans-serif" fill="#111111" textLength="110.03" lengthAdjust="spacingAndGlyphs" style="stroke:#111111;stroke-width:0.3px">measurable</text>
<text x="515.89" y="747.20" font-size="24.0" font-family="'Liberation Serif', serif" fill="#111111" textLength="18.81" lengthAdjust="spacingAndGlyphs" style="stroke:#111111;stroke-width:0.3px">Δ</text>
<text x="535.14" y="747.20" font-size="23.0" font-family="'Liberation Serif', serif" fill="#111111" textLength="16.03" lengthAdjust="spacingAndGlyphs" style="stroke:#111111;stroke-width:0.3px">Φ</text>
<text x="559.96" y="746.80" font-size="22.2" font-family="'Liberation Sans', sans-serif" fill="#111111" textLength="18.39" lengthAdjust="spacingAndGlyphs" style="stroke:#111111;stroke-width:0.3px">=</text>
<text x="585.72" y="745.60" font-size="22.2" font-family="'Liberation Sans', sans-serif" fill="#111111" textLength="70.24" lengthAdjust="spacingAndGlyphs" style="stroke:#111111;stroke-width:0.3px">0.1 rad</text>
<line x1="208.50" y1="874.50" x2="239.00" y2="874.50" stroke="#ff00ff" stroke-width="1.9"/>
<text x="209.14" y="859.70" font-size="19.3" font-family="'Liberation Sans', sans-serif" fill="#ff00ff" textLength="16.53" lengthAdjust="spacingAndGlyphs" style="stroke:#ff00ff;stroke-width:0.3px">ω</text>
<text x="225.23" y="870.30" font-size="14.4" font-family="'Liberation Sans', sans-serif" fill="#ff00ff" textLength="9.28" lengthAdjust="spacingAndGlyphs" style="stroke:#ff00ff;stroke-width:0.3px">p</text>
<text x="217.40" y="888.90" font-size="18.8" font-family="'Liberation Sans', sans-serif" fill="#ff00ff" textLength="9.63" lengthAdjust="spacingAndGlyphs" style="stroke:#ff00ff;stroke-width:0.3px">ν</text>
<text x="228.03" y="897.70" font-size="12.6" font-family="'Liberation Sans', sans-serif" fill="#ff00ff" textLength="14.83" lengthAdjust="spacingAndGlyphs" style="stroke:#ff00ff;stroke-width:0.3px">en</text>
<text x="242.01" y="880.00" font-size="20.3" font-family="'Liberation Sans', sans-serif" fill="#ff00ff" textLength="17.79" lengthAdjust="spacingAndGlyphs" style="stroke:#ff00ff;stroke-width:0.3px">=</text>
<text x="259.09" y="878.50" font-size="20.3" font-family="'Liberation Sans', sans-serif" fill="#ff00ff" textLength="43.98" lengthAdjust="spacingAndGlyphs" style="stroke:#ff00ff;stroke-width:0.3px">1000</text>
<line x1="531.70" y1="829.90" x2="562.30" y2="829.90" stroke="#77ac30" stroke-width="1.9"/>
<text x="531.55" y="814.40" font-size="19.3" font-family="'Liberation Sans', sans-serif" fill="#77ac30" textLength="16.30" lengthAdjust="spacingAndGlyphs" style="stroke:#77ac30;stroke-width:0.3px">ω</text>
<text x="547.45" y="824.50" font-size="14.4" font-family="'Liberation Sans', sans-serif" fill="#77ac30" textLength="9.03" lengthAdjust="spacingAndGlyphs" style="stroke:#77ac30;stroke-width:0.3px">p</text>
<text x="537.50" y="844.50" font-size="18.8" font-family="'Liberation Sans', sans-serif" fill="#77ac30" textLength="11.91" lengthAdjust="spacingAndGlyphs" style="stroke:#77ac30;stroke-width:0.3px">ν</text>
<text x="549.33" y="852.40" font-size="12.6" font-family="'Liberation Sans', sans-serif" fill="#77ac30" textLength="15.05" lengthAdjust="spacingAndGlyphs" style="stroke:#77ac30;stroke-width:0.3px">en</text>
<text x="571.83" y="835.90" font-size="20.3" font-family="'Liberation Sans', sans-serif" fill="#77ac30" textLength="17.55" lengthAdjust="spacingAndGlyphs" style="stroke:#77ac30;stroke-width:0.3px">=</text>
<text x="589.39" y="835.00" font-size="20.3" font-family="'Liberation Sans', sans-serif" fill="#77ac30" textLength="10.32" lengthAdjust="spacingAndGlyphs" style="stroke:#77ac30;stroke-width:0.3px">1</text>
</svg></body></html>
